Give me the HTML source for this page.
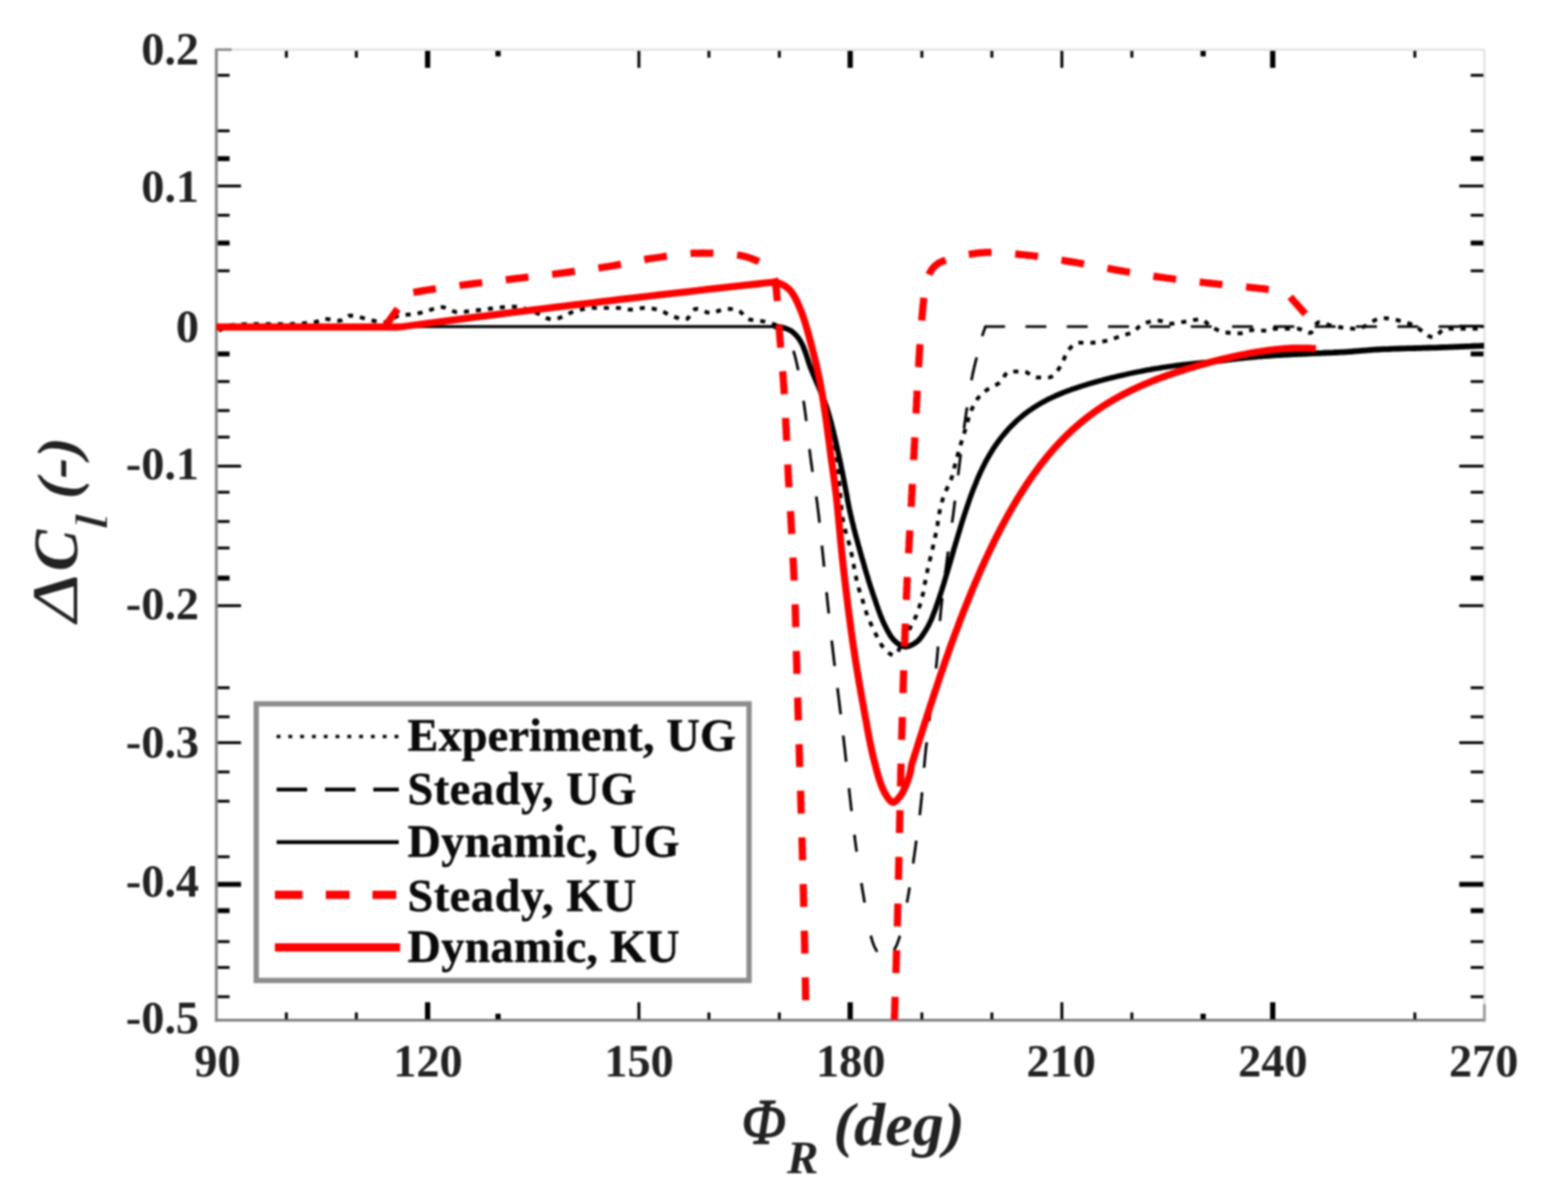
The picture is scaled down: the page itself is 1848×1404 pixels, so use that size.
<!DOCTYPE html>
<html lang="en"><head><meta charset="utf-8"><title>Lift coefficient change versus rotor azimuth</title>
<style>
html,body{margin:0;padding:0;background:#fff;}
body{width:1848px;height:1404px;overflow:hidden;}
svg{display:block;}
text{font-family:"Liberation Serif","DejaVu Serif",serif;font-weight:bold;fill:#222;}
.tl{font-size:54.5px;}
.lg{font-size:54.5px;fill:#0a0a0a;stroke:#0a0a0a;stroke-width:0.5px;stroke-linejoin:round;}
.it{font-style:italic;}
</style></head><body>
<svg role="img" aria-label="Lift coefficient change versus rotor azimuth" width="1848" height="1404" viewBox="0 0 1848 1404">
<rect x="0" y="0" width="1848" height="1404" fill="#fff"/>
<defs><filter id="soft" x="0" y="0" width="1848" height="1404" filterUnits="userSpaceOnUse" color-interpolation-filters="sRGB"><feGaussianBlur stdDeviation="1.0"/></filter></defs>
<g id="plot" filter="url(#soft)">

<line x1="255.0" y1="58.5" x2="1749.5" y2="58.5" stroke="#e6e6e6" stroke-width="3.2"/>
<line x1="1749.5" y1="58.5" x2="1749.5" y2="1202.7" stroke="#e6e6e6" stroke-width="3.2"/>
<line x1="255.0" y1="56.9" x2="255.0" y2="1204.3" stroke="#808080" stroke-width="3.2"/>
<line x1="253.4" y1="1202.7" x2="1751.1" y2="1202.7" stroke="#808080" stroke-width="3.2"/>
<line x1="255.0" y1="58.5" x2="273.0" y2="58.5" stroke="#909090" stroke-width="3.2"/>
<line x1="1749.5" y1="1183.7" x2="1749.5" y2="1204.3" stroke="#999" stroke-width="3.2"/>
<g stroke="#000" fill="none">
<line x1="256.6" y1="88.75" x2="270.6" y2="88.75" stroke-width="3.3"/>
<line x1="1748.3" y1="88.75" x2="1733.3" y2="88.75" stroke-width="3.3"/>
<line x1="256.6" y1="154.25" x2="270.6" y2="154.25" stroke-width="3.3"/>
<line x1="1748.3" y1="154.25" x2="1733.3" y2="154.25" stroke-width="3.3"/>
<line x1="256.6" y1="187" x2="270.6" y2="187" stroke-width="5.8"/>
<line x1="1748.3" y1="187" x2="1733.3" y2="187" stroke-width="5.8"/>
<line x1="256.6" y1="219.25" x2="284.1" y2="219.25" stroke-width="3.3"/>
<line x1="1748.3" y1="219.25" x2="1719.8" y2="219.25" stroke-width="3.3"/>
<line x1="256.6" y1="253.75" x2="270.6" y2="253.75" stroke-width="3.3"/>
<line x1="1748.3" y1="253.75" x2="1733.3" y2="253.75" stroke-width="3.3"/>
<line x1="256.6" y1="286.5" x2="270.6" y2="286.5" stroke-width="5.8"/>
<line x1="1748.3" y1="286.5" x2="1733.3" y2="286.5" stroke-width="5.8"/>
<line x1="256.6" y1="319.25" x2="270.6" y2="319.25" stroke-width="3.3"/>
<line x1="1748.3" y1="319.25" x2="1733.3" y2="319.25" stroke-width="3.3"/>
<line x1="256.6" y1="384.5" x2="284.1" y2="384.5" stroke-width="3.3"/>
<line x1="1748.3" y1="384.5" x2="1719.8" y2="384.5" stroke-width="3.3"/>
<line x1="256.6" y1="417.25" x2="270.6" y2="417.25" stroke-width="5.8"/>
<line x1="1748.3" y1="417.25" x2="1733.3" y2="417.25" stroke-width="5.8"/>
<line x1="256.6" y1="449.75" x2="270.6" y2="449.75" stroke-width="3.3"/>
<line x1="1748.3" y1="449.75" x2="1733.3" y2="449.75" stroke-width="3.3"/>
<line x1="256.6" y1="484" x2="270.6" y2="484" stroke-width="3.3"/>
<line x1="1748.3" y1="484" x2="1733.3" y2="484" stroke-width="3.3"/>
<line x1="256.6" y1="515.25" x2="270.6" y2="515.25" stroke-width="3.3"/>
<line x1="1748.3" y1="515.25" x2="1733.3" y2="515.25" stroke-width="3.3"/>
<line x1="256.6" y1="549.5" x2="284.1" y2="549.5" stroke-width="3.3"/>
<line x1="1748.3" y1="549.5" x2="1719.8" y2="549.5" stroke-width="3.3"/>
<line x1="256.6" y1="580.25" x2="270.6" y2="580.25" stroke-width="3.3"/>
<line x1="1748.3" y1="580.25" x2="1733.3" y2="580.25" stroke-width="3.3"/>
<line x1="256.6" y1="614.75" x2="270.6" y2="614.75" stroke-width="3.3"/>
<line x1="1748.3" y1="614.75" x2="1733.3" y2="614.75" stroke-width="3.3"/>
<line x1="256.6" y1="646" x2="270.6" y2="646" stroke-width="3.3"/>
<line x1="1748.3" y1="646" x2="1733.3" y2="646" stroke-width="3.3"/>
<line x1="256.6" y1="681.5" x2="270.6" y2="681.5" stroke-width="5.8"/>
<line x1="1748.3" y1="681.5" x2="1733.3" y2="681.5" stroke-width="5.8"/>
<line x1="256.6" y1="714" x2="284.1" y2="714" stroke-width="3.3"/>
<line x1="1748.3" y1="714" x2="1719.8" y2="714" stroke-width="3.3"/>
<line x1="256.6" y1="810.75" x2="270.6" y2="810.75" stroke-width="3.3"/>
<line x1="1748.3" y1="810.75" x2="1733.3" y2="810.75" stroke-width="3.3"/>
<line x1="256.6" y1="845" x2="270.6" y2="845" stroke-width="3.3"/>
<line x1="1748.3" y1="845" x2="1733.3" y2="845" stroke-width="3.3"/>
<line x1="256.6" y1="875.5" x2="284.1" y2="875.5" stroke-width="3.3"/>
<line x1="1748.3" y1="875.5" x2="1719.8" y2="875.5" stroke-width="3.3"/>
<line x1="256.6" y1="910" x2="270.6" y2="910" stroke-width="3.3"/>
<line x1="1748.3" y1="910" x2="1733.3" y2="910" stroke-width="3.3"/>
<line x1="256.6" y1="944.5" x2="270.6" y2="944.5" stroke-width="3.3"/>
<line x1="1748.3" y1="944.5" x2="1733.3" y2="944.5" stroke-width="3.3"/>
<line x1="256.6" y1="1010" x2="270.6" y2="1010" stroke-width="3.3"/>
<line x1="1748.3" y1="1010" x2="1733.3" y2="1010" stroke-width="3.3"/>
<line x1="256.6" y1="1042.5" x2="284.1" y2="1042.5" stroke-width="5.8"/>
<line x1="1748.3" y1="1042.5" x2="1719.8" y2="1042.5" stroke-width="5.8"/>
<line x1="256.6" y1="1073.5" x2="270.6" y2="1073.5" stroke-width="5.8"/>
<line x1="1748.3" y1="1073.5" x2="1733.3" y2="1073.5" stroke-width="5.8"/>
<line x1="256.6" y1="1110" x2="270.6" y2="1110" stroke-width="3.3"/>
<line x1="1748.3" y1="1110" x2="1733.3" y2="1110" stroke-width="3.3"/>
<line x1="256.6" y1="1140.5" x2="270.6" y2="1140.5" stroke-width="3.3"/>
<line x1="1748.3" y1="1140.5" x2="1733.3" y2="1140.5" stroke-width="3.3"/>
<line x1="256.6" y1="1175" x2="270.6" y2="1175" stroke-width="3.3"/>
<line x1="1748.3" y1="1175" x2="1733.3" y2="1175" stroke-width="3.3"/>
<line x1="337.5" y1="1201.5" x2="337.5" y2="1193.5" stroke-width="3.4"/>
<line x1="337.5" y1="60.0" x2="337.5" y2="68.0" stroke-width="3.4"/>
<line x1="420" y1="1201.5" x2="420" y2="1193.5" stroke-width="3.4"/>
<line x1="420" y1="60.0" x2="420" y2="68.0" stroke-width="3.4"/>
<line x1="504" y1="1201.5" x2="504" y2="1181.5" stroke-width="6.2"/>
<line x1="504" y1="60.0" x2="504" y2="80.0" stroke-width="6.2"/>
<line x1="587" y1="1201.5" x2="587" y2="1195.0" stroke-width="6.2"/>
<line x1="587" y1="60.0" x2="587" y2="66.5" stroke-width="6.2"/>
<line x1="753" y1="1201.5" x2="753" y2="1181.5" stroke-width="3.4"/>
<line x1="753" y1="60.0" x2="753" y2="80.0" stroke-width="3.4"/>
<line x1="835.5" y1="1201.5" x2="835.5" y2="1193.5" stroke-width="3.4"/>
<line x1="835.5" y1="60.0" x2="835.5" y2="68.0" stroke-width="3.4"/>
<line x1="918.5" y1="1201.5" x2="918.5" y2="1193.5" stroke-width="3.4"/>
<line x1="918.5" y1="60.0" x2="918.5" y2="68.0" stroke-width="3.4"/>
<line x1="1002" y1="1201.5" x2="1002" y2="1181.5" stroke-width="6.2"/>
<line x1="1002" y1="60.0" x2="1002" y2="80.0" stroke-width="6.2"/>
<line x1="1086.5" y1="1201.5" x2="1086.5" y2="1193.5" stroke-width="3.4"/>
<line x1="1086.5" y1="60.0" x2="1086.5" y2="68.0" stroke-width="3.4"/>
<line x1="1169" y1="1201.5" x2="1169" y2="1193.5" stroke-width="3.4"/>
<line x1="1169" y1="60.0" x2="1169" y2="68.0" stroke-width="3.4"/>
<line x1="1251.5" y1="1201.5" x2="1251.5" y2="1181.5" stroke-width="3.4"/>
<line x1="1251.5" y1="60.0" x2="1251.5" y2="80.0" stroke-width="3.4"/>
<line x1="1334" y1="1201.5" x2="1334" y2="1193.5" stroke-width="3.4"/>
<line x1="1334" y1="60.0" x2="1334" y2="68.0" stroke-width="3.4"/>
<line x1="1418" y1="1201.5" x2="1418" y2="1195.0" stroke-width="6.2"/>
<line x1="1418" y1="60.0" x2="1418" y2="66.5" stroke-width="6.2"/>
<line x1="1500" y1="1201.5" x2="1500" y2="1181.5" stroke-width="6.2"/>
<line x1="1500" y1="60.0" x2="1500" y2="80.0" stroke-width="6.2"/>
<line x1="1667.5" y1="1201.5" x2="1667.5" y2="1193.5" stroke-width="3.4"/>
<line x1="1667.5" y1="60.0" x2="1667.5" y2="68.0" stroke-width="3.4"/>
</g>
<clipPath id="cp"><rect x="255.0" y="58.5" width="1494.5" height="1147.2"/></clipPath>
<g clip-path="url(#cp)" fill="none" stroke-linejoin="round">
<path d="M258.0,390.0 L260.1,388.8 L262.2,387.6 L264.3,386.5 L266.5,385.4 L268.6,384.5 L270.8,383.8 L273.0,383.3 L275.2,383.0 L277.5,382.8 L279.7,382.7 L282.0,382.5 L284.4,382.4 L286.7,382.3 L289.1,382.2 L291.4,382.1 L293.8,382.1 L296.1,382.0 L298.5,382.0 L300.8,382.0 L303.1,382.0 L305.4,382.0 L307.8,382.0 L310.1,382.0 L312.4,382.0 L314.8,382.0 L317.1,382.0 L319.4,382.0 L321.7,382.0 L324.1,382.0 L326.4,382.0 L328.7,382.0 L331.0,382.0 L333.4,382.0 L335.7,382.0 L338.0,382.0 L340.3,382.0 L342.7,382.0 L345.0,381.9 L347.3,381.9 L349.7,381.8 L352.0,381.6 L354.4,381.5 L356.7,381.3 L359.0,381.1 L361.3,380.9 L363.6,380.7 L365.9,380.5 L368.2,380.2 L370.5,379.9 L372.7,379.3 L375.0,378.5 L377.2,377.5 L379.4,376.7 L381.6,376.1 L383.9,376.0 L386.2,376.2 L388.5,376.5 L390.8,376.9 L393.2,377.3 L395.5,377.6 L397.8,377.9 L400.0,378.0 L402.2,377.6 L404.3,376.5 L406.4,375.1 L408.5,373.7 L410.6,372.5 L412.7,372.0 L414.9,372.1 L417.1,372.3 L419.3,372.7 L421.6,373.2 L423.9,373.7 L426.1,374.4 L428.4,375.1 L430.7,375.7 L433.0,376.4 L435.3,377.0 L437.6,377.6 L439.9,378.0 L442.2,378.4 L444.6,378.8 L446.9,379.2 L449.3,379.6 L451.6,379.8 L453.8,380.0 L456.0,379.9 L458.1,379.3 L460.1,378.1 L462.1,376.6 L464.1,375.1 L466.1,373.7 L468.2,372.6 L470.3,371.9 L472.6,371.6 L474.8,371.4 L477.2,371.1 L479.5,371.0 L481.9,370.8 L484.2,370.6 L486.6,370.4 L488.9,370.2 L491.2,369.8 L493.4,369.3 L495.7,368.7 L497.9,368.1 L500.2,367.4 L502.4,366.7 L504.6,366.1 L506.9,365.4 L509.1,364.7 L511.4,363.9 L513.6,363.1 L515.9,362.5 L518.1,362.1 L520.4,362.0 L522.6,362.3 L524.8,362.9 L527.0,363.7 L529.3,364.7 L531.5,365.7 L533.7,366.6 L535.9,367.4 L538.2,367.9 L540.4,368.0 L542.7,367.9 L545.0,367.8 L547.3,367.6 L549.7,367.3 L552.0,367.0 L554.3,366.7 L556.6,366.4 L559.0,366.1 L561.3,365.9 L563.6,365.6 L565.9,365.4 L568.2,365.1 L570.6,364.8 L572.9,364.5 L575.2,364.2 L577.6,363.9 L579.9,363.6 L582.2,363.3 L584.5,363.0 L586.9,362.7 L589.2,362.5 L591.5,362.3 L593.8,362.1 L596.1,361.9 L598.4,361.7 L600.7,361.6 L603.0,361.5 L605.3,361.5 L607.6,361.5 L609.8,361.8 L612.1,362.2 L614.4,362.7 L616.6,363.3 L618.9,364.0 L621.1,364.8 L623.3,365.6 L625.6,366.4 L627.8,367.2 L630.0,368.0 L632.2,368.8 L634.4,369.8 L636.5,370.9 L638.7,372.1 L640.8,373.3 L642.9,374.3 L645.1,375.3 L647.2,376.0 L649.4,376.4 L651.6,376.5 L653.7,376.3 L655.9,375.9 L658.1,375.2 L660.2,374.4 L662.4,373.5 L664.6,372.5 L666.7,371.4 L668.9,370.3 L671.1,369.3 L673.3,368.3 L675.5,367.4 L677.8,366.6 L680.0,366.0 L682.3,365.5 L684.5,365.0 L686.8,364.4 L689.1,364.0 L691.4,363.6 L693.7,363.3 L696.0,363.1 L698.4,363.0 L700.7,363.0 L703.0,363.0 L705.3,363.0 L707.6,363.0 L710.0,363.0 L712.3,363.0 L714.6,363.0 L717.0,363.0 L719.3,363.0 L721.6,363.0 L724.0,363.0 L726.3,363.0 L728.6,363.0 L730.9,363.2 L733.2,363.6 L735.5,364.0 L737.8,364.4 L740.1,364.8 L742.4,365.0 L744.7,364.9 L747.0,364.7 L749.4,364.4 L751.7,364.0 L754.0,363.6 L756.3,363.2 L758.6,363.0 L760.9,363.0 L763.2,363.1 L765.6,363.3 L767.9,363.6 L770.2,364.0 L772.5,364.4 L774.8,364.9 L777.0,365.4 L779.1,366.1 L781.2,367.1 L783.3,368.2 L785.4,369.4 L787.5,370.6 L789.6,371.6 L791.7,372.6 L793.9,373.3 L796.2,374.0 L798.6,374.7 L800.9,375.4 L803.3,375.9 L805.5,376.3 L807.6,376.5 L809.4,376.1 L811.1,374.8 L812.7,372.7 L814.2,370.3 L815.8,367.9 L817.3,365.8 L819.0,364.4 L820.8,364.0 L822.9,364.3 L825.0,365.0 L827.2,365.8 L829.5,366.8 L831.9,367.7 L834.2,368.4 L836.5,368.9 L838.8,369.0 L841.0,368.6 L843.3,367.9 L845.5,367.0 L847.7,366.1 L849.9,365.2 L852.2,364.5 L854.4,364.1 L856.7,364.0 L859.1,364.1 L861.5,364.3 L863.9,364.5 L866.2,364.7 L868.3,365.1 L870.3,365.8 L872.1,367.1 L873.9,368.8 L875.7,370.7 L877.4,372.6 L879.2,374.3 L881.1,375.7 L883.0,376.5 L885.2,377.0 L887.4,377.3 L889.7,377.6 L892.1,377.9 L894.5,378.1 L896.8,378.4 L899.2,378.8 L901.5,379.2 L903.7,379.7 L906.0,380.3 L908.2,381.0 L910.4,381.7 L912.6,382.4 L914.9,383.1 L917.1,383.8 L919.3,384.6 L921.6,385.3 L923.9,386.1 L926.1,386.9 L928.2,387.8 L930.1,388.8 L932.0,390.0 L933.9,391.3 L935.7,392.9 L937.5,394.6 L939.1,396.3 L940.7,398.2 L942.0,400.0 L943.2,401.9 L944.3,403.8 L945.3,405.8 L946.3,407.8 L947.2,409.9 L948.0,412.1 L948.8,414.3 L949.6,416.5 L950.3,418.8 L951.1,421.1 L951.8,423.4 L952.5,425.6 L953.3,427.9 L954.1,430.1 L954.9,432.4 L955.7,434.5 L956.6,436.7 L957.4,438.9 L958.3,441.0 L959.2,443.2 L960.1,445.3 L960.9,447.5 L961.8,449.6 L962.7,451.8 L963.6,453.9 L964.4,456.1 L965.3,458.3 L966.2,460.4 L967.1,462.6 L968.0,464.7 L968.9,466.9 L969.8,469.0 L970.7,471.2 L971.6,473.3 L972.5,475.5 L973.3,477.6 L974.1,479.8 L974.9,482.0 L975.6,484.2 L976.2,486.4 L976.8,488.7 L977.4,490.9 L978.0,493.2 L978.5,495.4 L979.1,497.7 L979.6,500.0 L980.1,502.3 L980.6,504.5 L981.0,506.8 L981.5,509.1 L981.9,511.4 L982.3,513.7 L982.7,516.0 L983.1,518.3 L983.5,520.6 L983.9,522.9 L984.3,525.2 L984.6,527.5 L985.0,529.8 L985.3,532.1 L985.7,534.4 L986.0,536.7 L986.3,539.0 L986.6,541.3 L986.8,543.6 L987.1,545.9 L987.3,548.2 L987.6,550.5 L987.8,552.8 L988.0,555.2 L988.2,557.5 L988.4,559.8 L988.5,562.1 L988.7,564.4 L988.9,566.8 L989.1,569.1 L989.3,571.4 L989.5,573.7 L989.6,576.0 L989.9,578.4 L990.1,580.7 L990.3,583.0 L990.5,585.3 L990.7,587.6 L990.9,590.0 L991.1,592.3 L991.3,594.6 L991.5,596.9 L991.7,599.2 L992.0,601.6 L992.2,603.9 L992.5,606.2 L992.8,608.5 L993.1,610.8 L993.5,613.0 L993.9,615.3 L994.4,617.6 L994.9,619.8 L995.4,622.1 L996.0,624.3 L996.6,626.6 L997.3,628.8 L997.9,631.1 L998.5,633.3 L999.2,635.6 L999.8,637.8 L1000.5,640.1 L1001.1,642.3 L1001.7,644.6 L1002.3,646.8 L1002.8,649.1 L1003.3,651.4 L1003.8,653.7 L1004.2,655.9 L1004.7,658.2 L1005.1,660.5 L1005.6,662.8 L1006.0,665.1 L1006.4,667.4 L1006.8,669.7 L1007.2,672.0 L1007.7,674.2 L1008.1,676.5 L1008.6,678.8 L1009.0,681.1 L1009.5,683.4 L1010.0,685.6 L1010.6,687.9 L1011.2,690.1 L1011.8,692.4 L1012.4,694.6 L1013.1,696.8 L1013.8,699.0 L1014.5,701.3 L1015.2,703.5 L1016.0,705.7 L1016.7,707.9 L1017.4,710.1 L1018.0,712.4 L1018.7,714.6 L1019.4,716.8 L1020.1,719.0 L1020.8,721.3 L1021.5,723.5 L1022.3,725.7 L1023.1,727.8 L1024.0,730.0 L1024.9,732.1 L1025.8,734.2 L1026.8,736.4 L1027.8,738.5 L1028.8,740.6 L1029.8,742.7 L1030.9,744.8 L1031.9,746.9 L1032.9,749.0 L1033.9,751.2 L1034.9,753.4 L1036.0,755.5 L1037.1,757.5 L1038.3,759.5 L1039.6,761.3 L1041.0,763.1 L1042.6,764.9 L1044.4,766.9 L1046.4,768.7 L1048.4,770.4 L1050.3,771.6 L1052.1,772.4 L1053.6,772.4 L1055.1,771.8 L1056.4,770.5 L1057.7,768.8 L1059.0,766.7 L1060.2,764.3 L1061.4,761.8 L1062.6,759.2 L1063.7,756.6 L1064.9,754.2 L1066.0,752.0 L1067.2,750.0 L1068.3,748.0 L1069.5,745.9 L1070.6,743.9 L1071.7,741.8 L1072.9,739.8 L1074.0,737.7 L1075.1,735.7 L1076.1,733.6 L1077.1,731.5 L1078.1,729.4 L1079.1,727.3 L1080.0,725.1 L1080.8,723.0 L1081.6,720.8 L1082.4,718.6 L1083.1,716.4 L1083.9,714.2 L1084.6,712.0 L1085.2,709.8 L1085.9,707.5 L1086.5,705.2 L1087.0,703.0 L1087.6,700.7 L1088.1,698.5 L1088.5,696.2 L1088.9,693.9 L1089.3,691.6 L1089.7,689.3 L1090.1,687.0 L1090.6,684.7 L1091.0,682.4 L1091.5,680.2 L1092.0,677.9 L1092.4,675.6 L1092.9,673.3 L1093.4,671.1 L1093.9,668.8 L1094.4,666.5 L1094.9,664.3 L1095.5,662.0 L1096.0,659.7 L1096.5,657.5 L1097.0,655.2 L1097.6,652.9 L1098.1,650.7 L1098.6,648.4 L1099.2,646.1 L1099.7,643.9 L1100.2,641.6 L1100.7,639.3 L1101.2,637.1 L1101.7,634.8 L1102.2,632.5 L1102.7,630.2 L1103.2,628.0 L1103.7,625.7 L1104.1,623.4 L1104.5,621.1 L1104.9,618.8 L1105.2,616.5 L1105.6,614.2 L1105.9,611.9 L1106.3,609.6 L1106.6,607.3 L1107.0,605.0 L1107.5,602.7 L1107.9,600.5 L1108.4,598.2 L1109.0,595.9 L1109.6,593.7 L1110.2,591.4 L1110.9,589.2 L1111.5,586.9 L1112.3,584.7 L1113.0,582.6 L1113.9,580.4 L1114.9,578.3 L1115.9,576.2 L1116.9,574.1 L1118.0,572.0 L1119.0,569.9 L1119.9,567.8 L1120.8,565.6 L1121.5,563.4 L1122.2,561.2 L1122.8,559.0 L1123.4,556.7 L1124.0,554.5 L1124.5,552.2 L1125.1,549.9 L1125.7,547.7 L1126.3,545.4 L1126.9,543.2 L1127.5,540.9 L1128.1,538.7 L1128.7,536.4 L1129.3,534.2 L1129.9,531.9 L1130.5,529.7 L1131.2,527.5 L1131.8,525.2 L1132.5,523.0 L1133.2,520.8 L1133.8,518.6 L1134.5,516.3 L1135.2,514.1 L1135.9,511.9 L1136.6,509.7 L1137.3,507.4 L1137.9,505.2 L1138.6,503.0 L1139.2,500.7 L1139.9,498.5 L1140.5,496.3 L1141.2,494.0 L1141.9,491.8 L1142.6,489.6 L1143.4,487.4 L1144.3,485.2 L1145.1,483.0 L1146.1,480.8 L1147.0,478.7 L1148.1,476.6 L1149.1,474.5 L1150.3,472.6 L1151.5,470.7 L1152.9,469.0 L1154.5,467.2 L1156.1,465.5 L1157.9,463.9 L1159.7,462.3 L1161.5,460.8 L1163.4,459.4 L1165.3,458.2 L1167.3,457.0 L1169.4,455.9 L1171.5,454.9 L1173.6,453.9 L1175.7,452.7 L1177.5,451.5 L1179.2,449.8 L1180.8,447.8 L1182.3,445.5 L1183.7,443.3 L1185.2,441.2 L1186.8,439.5 L1188.4,438.3 L1190.2,438.0 L1192.3,438.0 L1194.5,438.0 L1196.9,438.0 L1199.4,438.0 L1201.8,438.0 L1204.3,438.0 L1206.5,438.0 L1208.7,438.5 L1210.9,439.4 L1213.0,440.7 L1215.1,442.0 L1217.2,443.3 L1219.3,444.3 L1221.5,444.9 L1223.7,445.0 L1226.1,445.0 L1228.5,445.0 L1231.0,445.0 L1233.3,445.0 L1235.5,445.0 L1237.4,444.8 L1239.3,444.0 L1241.2,442.7 L1243.0,441.0 L1244.7,439.0 L1246.3,436.9 L1247.8,434.8 L1249.2,432.7 L1250.5,430.8 L1251.6,428.8 L1252.6,426.7 L1253.5,424.5 L1254.4,422.2 L1255.3,419.9 L1256.2,417.8 L1257.2,415.7 L1258.4,413.8 L1259.7,412.1 L1261.3,410.3 L1263.1,408.4 L1265.0,406.7 L1267.0,405.3 L1269.1,404.3 L1271.2,404.0 L1273.3,404.0 L1275.6,404.0 L1277.9,404.0 L1280.3,404.0 L1282.7,404.0 L1285.1,404.0 L1287.5,404.0 L1289.8,403.9 L1292.1,403.8 L1294.4,403.5 L1296.7,403.1 L1299.0,402.7 L1301.3,402.2 L1303.6,401.8 L1305.9,401.3 L1308.1,400.7 L1310.3,400.0 L1312.5,399.2 L1314.7,398.4 L1316.9,397.6 L1319.1,396.8 L1321.3,396.1 L1323.6,395.4 L1325.8,394.7 L1328.1,394.1 L1330.3,393.4 L1332.5,392.6 L1334.6,391.7 L1336.5,390.6 L1338.4,389.1 L1340.1,387.4 L1341.8,385.6 L1343.6,384.0 L1345.4,382.6 L1347.3,381.6 L1349.4,380.9 L1351.6,380.2 L1353.8,379.6 L1356.2,379.0 L1358.5,378.6 L1360.9,378.3 L1363.2,378.0 L1365.5,378.0 L1367.8,378.3 L1370.1,378.9 L1372.3,379.7 L1374.6,380.5 L1376.9,381.1 L1379.1,381.5 L1381.4,381.5 L1383.7,381.3 L1386.0,381.0 L1388.3,380.6 L1390.6,380.2 L1392.9,379.8 L1395.2,379.4 L1397.5,379.0 L1399.9,378.6 L1402.2,378.2 L1404.6,377.8 L1407.0,377.3 L1409.3,377.0 L1411.6,376.7 L1413.8,376.5 L1415.9,376.6 L1417.8,377.3 L1419.8,378.5 L1421.6,380.2 L1423.5,381.9 L1425.4,383.6 L1427.3,384.9 L1429.4,386.0 L1431.5,387.2 L1433.6,388.3 L1435.7,389.3 L1437.9,390.2 L1440.1,391.0 L1442.3,391.5 L1444.5,391.8 L1446.8,392.1 L1449.1,392.4 L1451.5,392.6 L1453.8,392.8 L1456.2,392.9 L1458.5,393.0 L1460.8,393.0 L1463.1,392.7 L1465.3,392.1 L1467.6,391.4 L1469.8,390.6 L1472.1,389.9 L1474.4,389.3 L1476.6,389.0 L1478.9,389.0 L1481.3,389.1 L1483.6,389.3 L1485.9,389.5 L1488.3,389.7 L1490.6,389.8 L1492.9,390.0 L1495.2,390.0 L1497.5,389.5 L1499.7,388.7 L1501.9,387.8 L1504.2,387.5 L1506.5,387.5 L1508.8,387.5 L1511.1,387.5 L1513.5,387.5 L1515.8,387.5 L1518.2,387.5 L1520.5,387.5 L1522.9,387.5 L1525.2,387.5 L1527.5,387.5 L1529.7,387.5 L1532.1,388.0 L1534.4,388.9 L1536.8,389.9 L1539.0,391.0 L1541.2,391.9 L1543.1,392.4 L1544.9,392.3 L1546.4,390.9 L1547.8,388.7 L1549.1,386.0 L1550.4,383.4 L1551.8,381.3 L1553.4,380.1 L1555.2,380.1 L1557.2,380.4 L1559.3,380.9 L1561.6,381.6 L1563.9,382.3 L1566.3,383.1 L1568.8,383.8 L1571.2,384.4 L1573.5,384.9 L1575.8,385.3 L1578.1,385.6 L1580.4,385.9 L1582.8,386.2 L1585.1,386.5 L1587.5,386.8 L1589.8,387.0 L1592.1,387.2 L1594.4,387.4 L1596.7,387.5 L1599.0,387.5 L1601.2,387.3 L1603.4,386.8 L1605.5,386.0 L1607.7,385.0 L1609.8,383.9 L1611.9,382.6 L1614.0,381.2 L1616.2,379.9 L1618.3,378.6 L1620.4,377.5 L1622.5,376.5 L1624.7,375.7 L1626.8,375.2 L1629.0,375.0 L1631.3,375.0 L1633.5,375.2 L1635.8,375.4 L1638.1,375.7 L1640.4,376.1 L1642.8,376.5 L1645.1,377.0 L1647.4,377.6 L1649.7,378.2 L1652.0,378.8 L1654.3,379.5 L1656.6,380.1 L1658.8,380.8 L1661.0,381.5 L1663.2,382.2 L1665.3,383.0 L1667.4,384.1 L1669.5,385.4 L1671.5,386.8 L1673.5,388.4 L1675.5,390.1 L1677.5,391.7 L1679.4,393.2 L1681.4,394.6 L1683.3,395.8 L1685.3,396.7 L1687.2,397.3 L1689.2,397.5 L1691.1,397.0 L1693.0,395.7 L1694.9,394.0 L1696.8,392.1 L1698.7,390.2 L1700.6,388.7 L1702.7,387.7 L1704.7,387.5 L1706.8,387.5 L1708.9,387.5 L1711.1,387.5 L1713.3,387.5 L1715.5,387.5 L1717.7,387.5 L1719.9,387.5 L1722.2,387.5 L1724.5,387.5 L1726.8,387.5 L1729.2,387.5 L1731.5,387.5 L1733.9,387.5 L1736.4,387.5 L1738.8,387.5 L1741.3,387.5 L1743.9,387.5 L1746.4,387.5 L1749.0,387.5" stroke="#000" stroke-width="4.6" stroke-dasharray="6 8.2"/>
<path d="M1043.0,1135.0 L1041.8,1133.4 L1040.6,1131.9 L1039.5,1130.3 L1038.3,1128.7 L1037.2,1127.1 L1036.1,1125.5 L1035.0,1123.9 L1034.0,1122.2 L1033.0,1120.6 L1032.1,1118.9 L1031.2,1117.3 L1030.4,1115.6 L1029.7,1113.9 L1029.1,1112.2 L1028.5,1110.4 L1027.9,1108.7 L1027.4,1106.9 L1026.9,1105.1 L1026.4,1103.3 L1025.9,1101.5 L1025.5,1099.7 L1025.0,1097.8 L1024.6,1096.0 L1024.2,1094.1 L1023.8,1092.3 L1023.4,1090.4 L1023.1,1088.5 L1022.7,1086.6 L1022.4,1084.7 L1022.0,1082.8 L1021.7,1080.9 L1021.4,1079.0 L1021.0,1077.1 L1020.7,1075.2 L1020.4,1073.2 L1020.1,1071.3 L1019.8,1069.4 L1019.5,1067.5 L1019.2,1065.5 L1018.9,1063.6 L1018.6,1061.7 L1018.3,1059.8 L1018.0,1057.9 L1017.7,1056.0 L1017.4,1054.1 L1017.0,1052.2 L1016.7,1050.3 L1016.4,1048.5 L1016.1,1046.6 L1015.8,1044.7 L1015.5,1042.8 L1015.2,1040.9 L1014.8,1039.0 L1014.5,1037.1 L1014.2,1035.3 L1013.9,1033.4 L1013.7,1031.5 L1013.4,1029.6 L1013.1,1027.7 L1012.8,1025.8 L1012.5,1023.9 L1012.2,1022.0 L1011.9,1020.1 L1011.7,1018.3 L1011.4,1016.4 L1011.1,1014.5 L1010.8,1012.6 L1010.6,1010.7 L1010.3,1008.8 L1010.0,1006.9 L1009.8,1005.0 L1009.5,1003.1 L1009.2,1001.2 L1009.0,999.3 L1008.7,997.4 L1008.5,995.5 L1008.2,993.7 L1008.0,991.8 L1007.7,989.9 L1007.5,988.0 L1007.2,986.1 L1007.0,984.2 L1006.7,982.3 L1006.5,980.4 L1006.3,978.5 L1006.0,976.6 L1005.8,974.7 L1005.6,972.8 L1005.3,970.9 L1005.1,969.0 L1004.9,967.1 L1004.7,965.2 L1004.4,963.3 L1004.2,961.4 L1004.0,959.5 L1003.8,957.6 L1003.6,955.7 L1003.4,953.8 L1003.1,951.9 L1002.9,950.0 L1002.7,948.1 L1002.5,946.2 L1002.3,944.3 L1002.0,942.4 L1001.8,940.5 L1001.6,938.6 L1001.4,936.7 L1001.2,934.8 L1001.0,932.9 L1000.8,931.0 L1000.6,929.1 L1000.4,927.2 L1000.2,925.3 L1000.0,923.4 L999.8,921.5 L999.6,919.6 L999.4,917.7 L999.2,915.8 L998.9,913.9 L998.7,912.0 L998.5,910.1 L998.3,908.2 L998.1,906.3 L997.9,904.4 L997.7,902.5 L997.5,900.6 L997.3,898.7 L997.1,896.8 L996.9,894.9 L996.7,893.0 L996.5,891.1 L996.3,889.3 L996.1,887.4 L995.9,885.5 L995.7,883.6 L995.5,881.7 L995.2,879.8 L995.0,877.9 L994.8,876.0 L994.6,874.1 L994.4,872.2 L994.2,870.3 L993.9,868.4 L993.7,866.5 L993.5,864.6 L993.3,862.7 L993.0,860.8 L992.8,858.9 L992.6,857.0 L992.4,855.1 L992.2,853.2 L991.9,851.3 L991.7,849.4 L991.5,847.5 L991.2,845.6 L991.0,843.7 L990.8,841.8 L990.6,839.9 L990.3,838.0 L990.1,836.1 L989.9,834.2 L989.6,832.3 L989.4,830.4 L989.2,828.5 L989.0,826.6 L988.7,824.7 L988.5,822.8 L988.3,820.9 L988.0,819.0 L987.8,817.2 L987.5,815.3 L987.3,813.4 L987.1,811.5 L986.8,809.6 L986.6,807.7 L986.3,805.8 L986.1,803.9 L985.8,802.0 L985.6,800.1 L985.4,798.2 L985.1,796.3 L984.9,794.4 L984.6,792.5 L984.4,790.6 L984.2,788.7 L983.9,786.8 L983.7,784.9 L983.5,783.0 L983.3,781.1 L983.0,779.2 L982.8,777.3 L982.6,775.4 L982.4,773.5 L982.1,771.6 L981.9,769.7 L981.7,767.8 L981.5,766.0 L981.3,764.1 L981.1,762.2 L980.8,760.3 L980.6,758.4 L980.4,756.5 L980.2,754.6 L980.0,752.7 L979.8,750.8 L979.6,748.9 L979.4,747.0 L979.1,745.1 L978.9,743.2 L978.7,741.3 L978.5,739.4 L978.3,737.5 L978.1,735.6 L977.9,733.7 L977.7,731.8 L977.5,729.9 L977.3,728.0 L977.1,726.1 L976.9,724.2 L976.7,722.3 L976.5,720.4 L976.3,718.5 L976.1,716.6 L975.9,714.7 L975.7,712.8 L975.5,710.9 L975.3,709.0 L975.1,707.1 L974.9,705.2 L974.7,703.3 L974.5,701.4 L974.3,699.5 L974.1,697.6 L973.9,695.7 L973.8,693.8 L973.6,691.9 L973.4,690.0 L973.2,688.1 L973.0,686.2 L972.8,684.3 L972.6,682.4 L972.4,680.5 L972.3,678.5 L972.1,676.6 L971.9,674.7 L971.7,672.8 L971.5,670.9 L971.3,669.0 L971.1,667.1 L970.9,665.2 L970.7,663.3 L970.6,661.4 L970.4,659.5 L970.2,657.6 L970.0,655.7 L969.8,653.8 L969.6,651.9 L969.4,650.0 L969.2,648.1 L969.0,646.2 L968.8,644.3 L968.6,642.4 L968.4,640.5 L968.2,638.6 L968.0,636.7 L967.8,634.8 L967.6,632.9 L967.4,631.0 L967.3,629.1 L967.1,627.2 L966.9,625.3 L966.7,623.4 L966.5,621.5 L966.2,619.6 L966.0,617.7 L965.8,615.8 L965.6,613.9 L965.4,612.0 L965.2,610.1 L965.0,608.2 L964.8,606.3 L964.5,604.4 L964.3,602.5 L964.1,600.6 L963.8,598.7 L963.6,596.9 L963.4,595.0 L963.1,593.1 L962.9,591.2 L962.6,589.3 L962.3,587.4 L962.1,585.5 L961.8,583.6 L961.5,581.7 L961.2,579.8 L960.9,577.9 L960.7,576.0 L960.4,574.2 L960.1,572.3 L959.8,570.4 L959.5,568.5 L959.2,566.6 L958.9,564.7 L958.6,562.8 L958.4,560.9 L958.1,559.0 L957.8,557.2 L957.5,555.3 L957.2,553.4 L957.0,551.5 L956.7,549.6 L956.4,547.7 L956.1,545.8 L955.9,543.9 L955.6,542.0 L955.4,540.1 L955.1,538.2 L954.9,536.3 L954.7,534.4 L954.4,532.5 L954.2,530.6 L954.0,528.7 L953.8,526.8 L953.5,524.9 L953.3,523.0 L953.1,521.1 L952.9,519.2 L952.7,517.4 L952.5,515.5 L952.3,513.6 L952.0,511.7 L951.8,509.8 L951.6,507.9 L951.4,506.0 L951.2,504.1 L951.0,502.2 L950.7,500.3 L950.5,498.4 L950.3,496.5 L950.1,494.6 L949.8,492.7 L949.6,490.8 L949.4,488.9 L949.1,487.0 L948.9,485.1 L948.6,483.2 L948.3,481.3 L948.1,479.4 L947.8,477.5 L947.5,475.6 L947.2,473.8 L946.9,471.9 L946.7,470.0 L946.4,468.1 L946.1,466.2 L945.8,464.3 L945.5,462.4 L945.2,460.5 L944.9,458.6 L944.5,456.7 L944.2,454.8 L943.9,453.0 L943.6,451.1 L943.2,449.2 L942.9,447.3 L942.5,445.4 L942.2,443.5 L941.8,441.7 L941.4,439.8 L941.1,437.9 L940.7,436.0 L940.3,434.2 L939.9,432.3 L939.5,430.4 L939.1,428.6 L938.6,426.7 L938.2,424.9 L937.8,423.0 L937.3,421.2 L936.8,419.4 L936.3,417.5 L935.8,415.7 L935.3,413.9 L934.7,412.1 L934.2,410.2 L933.6,408.4 L933.0,406.6 L932.4,404.8 L931.8,403.0 L931.1,401.2 L930.5,399.4 L929.8,397.5 L929.2,395.7 L928.5,394.0 L927.8,392.2 L927.1,390.4 L926.4,388.6 L925.7,386.8 L925.0,385.0" stroke="#000" stroke-width="3.2" stroke-dasharray="0.0 15.9 20.5 39.7 23.3 37.4 20.2 28.2 27.2 31.2 31.2 25.2 31.2 26.2 30.2 32.2 25.1 30.1 25.1 27.1 31.2 29.3 27.2 33.2 24.2 36.5 23.7 2000"/>
<path d="M1043.0,1135.0 L1044.2,1133.5 L1045.4,1131.9 L1046.6,1130.3 L1047.8,1128.8 L1048.9,1127.2 L1050.1,1125.6 L1051.2,1124.0 L1052.2,1122.4 L1053.2,1120.7 L1054.2,1119.1 L1055.1,1117.4 L1056.0,1115.8 L1056.8,1114.1 L1057.5,1112.4 L1058.1,1110.7 L1058.7,1108.9 L1059.3,1107.2 L1059.9,1105.4 L1060.4,1103.6 L1060.9,1101.8 L1061.5,1100.0 L1061.9,1098.2 L1062.4,1096.4 L1062.9,1094.5 L1063.3,1092.7 L1063.8,1090.8 L1064.2,1088.9 L1064.6,1087.0 L1065.0,1085.1 L1065.4,1083.2 L1065.8,1081.3 L1066.1,1079.4 L1066.5,1077.5 L1066.9,1075.6 L1067.2,1073.7 L1067.5,1071.8 L1067.9,1069.9 L1068.2,1068.0 L1068.6,1066.1 L1068.9,1064.2 L1069.2,1062.2 L1069.6,1060.3 L1069.9,1058.5 L1070.2,1056.6 L1070.6,1054.7 L1070.9,1052.8 L1071.2,1050.9 L1071.5,1049.0 L1071.8,1047.2 L1072.2,1045.3 L1072.5,1043.4 L1072.8,1041.5 L1073.1,1039.6 L1073.3,1037.7 L1073.6,1035.8 L1073.9,1033.9 L1074.2,1032.1 L1074.5,1030.2 L1074.7,1028.3 L1075.0,1026.4 L1075.3,1024.5 L1075.6,1022.6 L1075.8,1020.7 L1076.1,1018.8 L1076.4,1016.9 L1076.6,1015.0 L1076.9,1013.1 L1077.1,1011.2 L1077.4,1009.3 L1077.7,1007.4 L1077.9,1005.5 L1078.2,1003.7 L1078.5,1001.8 L1078.7,999.9 L1079.0,998.0 L1079.2,996.1 L1079.5,994.2 L1079.8,992.3 L1080.0,990.4 L1080.3,988.5 L1080.6,986.6 L1080.8,984.7 L1081.1,982.8 L1081.3,980.9 L1081.6,979.0 L1081.8,977.1 L1082.1,975.2 L1082.4,973.4 L1082.6,971.5 L1082.8,969.6 L1083.1,967.7 L1083.3,965.8 L1083.6,963.9 L1083.8,962.0 L1084.0,960.1 L1084.3,958.2 L1084.5,956.3 L1084.7,954.4 L1084.9,952.5 L1085.1,950.6 L1085.3,948.7 L1085.5,946.8 L1085.7,944.9 L1085.9,943.0 L1086.1,941.1 L1086.3,939.2 L1086.4,937.3 L1086.6,935.4 L1086.8,933.5 L1087.0,931.6 L1087.1,929.7 L1087.3,927.8 L1087.4,925.9 L1087.6,924.0 L1087.7,922.0 L1087.9,920.1 L1088.0,918.2 L1088.2,916.3 L1088.4,914.4 L1088.5,912.5 L1088.7,910.6 L1088.8,908.7 L1089.0,906.8 L1089.1,904.9 L1089.3,903.0 L1089.5,901.1 L1089.6,899.2 L1089.8,897.3 L1090.0,895.4 L1090.2,893.5 L1090.3,891.6 L1090.5,889.7 L1090.7,887.8 L1090.9,885.9 L1091.1,884.0 L1091.3,882.1 L1091.5,880.2 L1091.8,878.3 L1092.0,876.4 L1092.2,874.5 L1092.4,872.6 L1092.6,870.7 L1092.8,868.8 L1093.1,866.9 L1093.3,865.0 L1093.5,863.1 L1093.8,861.2 L1094.0,859.3 L1094.2,857.4 L1094.5,855.5 L1094.7,853.6 L1094.9,851.7 L1095.2,849.8 L1095.4,847.9 L1095.6,846.0 L1095.9,844.1 L1096.1,842.2 L1096.3,840.3 L1096.6,838.4 L1096.8,836.5 L1097.0,834.6 L1097.3,832.7 L1097.5,830.8 L1097.8,828.9 L1098.0,827.1 L1098.3,825.2 L1098.5,823.3 L1098.8,821.4 L1099.0,819.5 L1099.3,817.6 L1099.5,815.7 L1099.8,813.8 L1100.1,811.9 L1100.3,810.0 L1100.6,808.1 L1100.8,806.2 L1101.1,804.3 L1101.3,802.4 L1101.6,800.5 L1101.8,798.6 L1102.1,796.7 L1102.3,794.8 L1102.5,792.9 L1102.8,791.0 L1103.0,789.2 L1103.2,787.3 L1103.4,785.4 L1103.6,783.5 L1103.8,781.6 L1104.0,779.7 L1104.2,777.8 L1104.4,775.9 L1104.6,774.0 L1104.7,772.0 L1104.9,770.1 L1105.1,768.2 L1105.2,766.3 L1105.4,764.4 L1105.5,762.5 L1105.7,760.6 L1105.8,758.7 L1106.0,756.8 L1106.1,754.9 L1106.3,753.0 L1106.4,751.1 L1106.5,749.2 L1106.7,747.3 L1106.8,745.4 L1107.0,743.5 L1107.1,741.6 L1107.2,739.6 L1107.4,737.7 L1107.5,735.8 L1107.7,733.9 L1107.8,732.0 L1108.0,730.1 L1108.2,728.2 L1108.3,726.3 L1108.5,724.4 L1108.7,722.5 L1108.8,720.6 L1109.0,718.7 L1109.2,716.8 L1109.4,714.9 L1109.6,713.0 L1109.8,711.1 L1110.0,709.2 L1110.2,707.3 L1110.4,705.4 L1110.6,703.5 L1110.8,701.6 L1111.1,699.7 L1111.3,697.8 L1111.5,695.9 L1111.7,694.0 L1111.9,692.1 L1112.2,690.2 L1112.4,688.3 L1112.6,686.4 L1112.9,684.5 L1113.1,682.6 L1113.3,680.7 L1113.6,678.8 L1113.8,677.0 L1114.1,675.1 L1114.3,673.2 L1114.6,671.3 L1114.8,669.4 L1115.1,667.5 L1115.3,665.6 L1115.6,663.7 L1115.8,661.8 L1116.1,659.9 L1116.3,658.0 L1116.6,656.1 L1116.9,654.2 L1117.1,652.3 L1117.4,650.4 L1117.6,648.5 L1117.9,646.6 L1118.2,644.7 L1118.4,642.8 L1118.7,641.0 L1118.9,639.1 L1119.2,637.2 L1119.5,635.3 L1119.7,633.4 L1120.0,631.5 L1120.3,629.6 L1120.5,627.7 L1120.8,625.8 L1121.0,623.9 L1121.3,622.0 L1121.6,620.1 L1121.8,618.2 L1122.1,616.3 L1122.3,614.4 L1122.6,612.5 L1122.8,610.7 L1123.1,608.8 L1123.4,606.9 L1123.6,605.0 L1123.9,603.1 L1124.1,601.2 L1124.4,599.3 L1124.6,597.4 L1124.8,595.5 L1125.1,593.6 L1125.3,591.7 L1125.6,589.8 L1125.8,587.9 L1126.1,586.0 L1126.3,584.1 L1126.5,582.2 L1126.8,580.3 L1127.0,578.4 L1127.2,576.5 L1127.5,574.6 L1127.7,572.7 L1127.9,570.8 L1128.2,568.9 L1128.4,567.0 L1128.6,565.1 L1128.9,563.2 L1129.1,561.3 L1129.3,559.4 L1129.6,557.5 L1129.8,555.6 L1130.0,553.7 L1130.3,551.8 L1130.5,549.9 L1130.7,548.0 L1130.9,546.1 L1131.2,544.2 L1131.4,542.3 L1131.6,540.4 L1131.9,538.5 L1132.1,536.6 L1132.3,534.7 L1132.6,532.8 L1132.8,530.9 L1133.1,529.0 L1133.3,527.1 L1133.5,525.2 L1133.8,523.3 L1134.0,521.4 L1134.3,519.5 L1134.5,517.6 L1134.7,515.8 L1135.0,513.9 L1135.2,512.0 L1135.5,510.1 L1135.7,508.2 L1136.0,506.3 L1136.3,504.4 L1136.5,502.5 L1136.8,500.6 L1137.0,498.7 L1137.3,496.8 L1137.6,494.9 L1137.8,493.0 L1138.1,491.1 L1138.4,489.2 L1138.6,487.3 L1138.9,485.5 L1139.2,483.6 L1139.5,481.7 L1139.8,479.8 L1140.0,477.9 L1140.3,476.0 L1140.6,474.1 L1140.9,472.2 L1141.2,470.4 L1141.5,468.5 L1141.8,466.6 L1142.1,464.7 L1142.4,462.8 L1142.7,460.9 L1143.1,459.1 L1143.4,457.2 L1143.7,455.3 L1144.0,453.4 L1144.4,451.6 L1144.7,449.7 L1145.0,447.8 L1145.4,445.9 L1145.8,444.1 L1146.1,442.2 L1146.5,440.3 L1147.0,438.5 L1147.4,436.6 L1147.8,434.7 L1148.2,432.9 L1148.7,431.0 L1149.1,429.1 L1149.6,427.3 L1150.0,425.4 L1150.5,423.6 L1151.0,421.7 L1151.4,419.8 L1151.8,418.0 L1152.3,416.1 L1152.7,414.3 L1153.2,412.4 L1153.6,410.5 L1154.1,408.7 L1154.6,406.8 L1155.0,405.0 L1155.5,403.1 L1156.0,401.3 L1156.6,399.5 L1157.1,397.6 L1157.7,395.8 L1158.3,394.0 L1158.9,392.2 L1159.5,390.4 L1160.2,388.6 L1160.8,386.8 L1161.5,385.0" stroke="#000" stroke-width="3.2" stroke-dasharray="0.0 18.4 18.4 39.9 18.3 28.3 27.3 30.3 27.1 29.1 30.2 25.2 30.2 32.3 26.1 30.1 27.1 29.2 26.2 34.3 26.2 30.2 25.2 30.2 25.3 32.4 27.7 25.8 11.7 2000"/>
<path d="M1159.9,385.0 L1749.0,385.0" stroke="#000" stroke-width="3" stroke-dasharray="24.6 24.1"/>
<path d="M255.0,385.0 L921.0,385.0" stroke="#000" stroke-width="3.4"/>
<path d="M912.0,385.0 L913.6,385.0 L915.2,385.1 L916.8,385.2 L918.3,385.3 L919.9,385.5 L921.5,385.8 L923.1,386.2 L924.7,386.7 L926.2,387.2 L927.7,387.8 L929.2,388.4 L930.5,389.0 L931.8,389.7 L933.1,390.6 L934.4,391.5 L935.6,392.6 L936.8,393.7 L938.0,394.9 L939.1,396.2 L940.2,397.5 L941.2,398.8 L942.1,400.1 L942.9,401.4 L943.7,402.6 L944.4,404.0 L945.1,405.3 L945.8,406.7 L946.4,408.1 L947.0,409.5 L947.6,411.0 L948.2,412.5 L948.7,414.0 L949.3,415.5 L949.8,417.1 L950.3,418.6 L950.8,420.1 L951.3,421.7 L951.8,423.3 L952.3,424.8 L952.8,426.4 L953.3,427.9 L953.8,429.5 L954.4,431.0 L954.9,432.5 L955.5,434.0 L956.1,435.5 L956.7,436.9 L957.3,438.4 L957.9,439.9 L958.5,441.3 L959.1,442.8 L959.7,444.3 L960.3,445.7 L961.0,447.2 L961.6,448.7 L962.2,450.1 L962.9,451.6 L963.5,453.1 L964.1,454.5 L964.8,456.0 L965.4,457.5 L966.0,458.9 L966.6,460.4 L967.2,461.9 L967.9,463.3 L968.5,464.8 L969.1,466.3 L969.7,467.8 L970.2,469.2 L970.8,470.7 L971.4,472.2 L972.0,473.7 L972.5,475.2 L973.0,476.6 L973.6,478.1 L974.1,479.6 L974.6,481.1 L975.1,482.6 L975.5,484.1 L976.0,485.7 L976.5,487.2 L976.9,488.7 L977.3,490.2 L977.8,491.7 L978.2,493.3 L978.6,494.8 L979.0,496.3 L979.5,497.8 L979.9,499.4 L980.3,500.9 L980.7,502.5 L981.0,504.0 L981.4,505.5 L981.8,507.1 L982.2,508.6 L982.6,510.2 L982.9,511.7 L983.3,513.3 L983.7,514.8 L984.0,516.4 L984.4,517.9 L984.7,519.5 L985.1,521.1 L985.5,522.6 L985.8,524.2 L986.2,525.7 L986.5,527.3 L986.8,528.8 L987.2,530.4 L987.5,531.9 L987.9,533.5 L988.2,535.0 L988.6,536.6 L988.9,538.1 L989.2,539.7 L989.6,541.2 L989.9,542.8 L990.2,544.3 L990.6,545.9 L990.9,547.5 L991.2,549.0 L991.5,550.6 L991.8,552.1 L992.1,553.7 L992.5,555.2 L992.8,556.8 L993.1,558.4 L993.4,559.9 L993.7,561.5 L994.0,563.0 L994.3,564.6 L994.6,566.2 L994.9,567.7 L995.2,569.3 L995.5,570.8 L995.8,572.4 L996.1,574.0 L996.4,575.5 L996.7,577.1 L997.0,578.7 L997.3,580.2 L997.6,581.8 L997.9,583.3 L998.2,584.9 L998.5,586.5 L998.7,588.0 L999.0,589.6 L999.3,591.2 L999.6,592.7 L999.9,594.3 L1000.2,595.8 L1000.5,597.4 L1000.8,599.0 L1001.1,600.5 L1001.5,602.1 L1001.8,603.6 L1002.2,605.2 L1002.5,606.7 L1002.9,608.3 L1003.2,609.8 L1003.6,611.3 L1004.0,612.9 L1004.3,614.4 L1004.7,616.0 L1005.1,617.5 L1005.5,619.1 L1005.8,620.6 L1006.2,622.2 L1006.6,623.7 L1007.0,625.2 L1007.4,626.8 L1007.8,628.3 L1008.2,629.9 L1008.6,631.4 L1009.0,632.9 L1009.5,634.5 L1009.9,636.0 L1010.3,637.5 L1010.7,639.1 L1011.1,640.6 L1011.5,642.1 L1012.0,643.7 L1012.4,645.2 L1012.8,646.7 L1013.3,648.3 L1013.7,649.8 L1014.1,651.3 L1014.5,652.9 L1015.0,654.4 L1015.4,655.9 L1015.8,657.5 L1016.3,659.0 L1016.7,660.5 L1017.2,662.0 L1017.6,663.6 L1018.0,665.1 L1018.5,666.6 L1018.9,668.1 L1019.3,669.7 L1019.8,671.2 L1020.2,672.7 L1020.7,674.2 L1021.1,675.8 L1021.6,677.3 L1022.1,678.8 L1022.5,680.3 L1023.0,681.9 L1023.4,683.4 L1023.9,684.9 L1024.4,686.4 L1024.9,687.9 L1025.3,689.4 L1025.8,691.0 L1026.3,692.5 L1026.8,694.0 L1027.3,695.5 L1027.8,697.0 L1028.3,698.5 L1028.8,700.0 L1029.3,701.5 L1029.8,703.0 L1030.3,704.5 L1030.9,706.0 L1031.4,707.5 L1031.9,709.0 L1032.4,710.6 L1032.9,712.1 L1033.4,713.6 L1034.0,715.1 L1034.5,716.6 L1035.0,718.1 L1035.6,719.6 L1036.1,721.1 L1036.7,722.6 L1037.2,724.1 L1037.8,725.6 L1038.4,727.1 L1039.0,728.6 L1039.6,730.0 L1040.2,731.5 L1040.8,732.9 L1041.5,734.4 L1042.2,735.8 L1042.8,737.2 L1043.5,738.6 L1044.3,740.0 L1045.0,741.5 L1045.8,743.0 L1046.5,744.4 L1047.4,745.9 L1048.2,747.3 L1049.0,748.7 L1049.9,750.1 L1050.9,751.4 L1051.8,752.6 L1052.8,753.8 L1053.8,754.9 L1054.9,755.9 L1056.0,756.9 L1057.3,757.9 L1058.6,758.9 L1060.1,759.9 L1061.5,760.8 L1063.0,761.5 L1064.5,762.1 L1066.0,762.4 L1067.4,762.5 L1068.9,762.3 L1070.5,761.9 L1072.0,761.4 L1073.6,760.8 L1075.1,760.0 L1076.6,759.2 L1078.0,758.3 L1079.3,757.5 L1080.5,756.6 L1081.7,755.7 L1082.8,754.6 L1083.8,753.4 L1084.9,752.2 L1085.9,750.9 L1086.8,749.5 L1087.7,748.1 L1088.6,746.8 L1089.5,745.4 L1090.3,744.1 L1091.2,742.7 L1092.0,741.4 L1092.8,740.0 L1093.5,738.7 L1094.3,737.3 L1095.0,735.8 L1095.7,734.4 L1096.4,733.0 L1097.1,731.5 L1097.7,730.1 L1098.4,728.6 L1098.9,727.1 L1099.5,725.5 L1100.7,722.5 L1101.9,719.4 L1103.1,716.2 L1104.2,712.8 L1105.4,709.4 L1106.6,705.9 L1107.8,702.3 L1109.0,698.6 L1110.2,694.9 L1111.4,691.1 L1112.6,687.2 L1113.7,683.3 L1114.9,679.3 L1116.1,675.3 L1117.3,671.3 L1118.5,667.3 L1119.7,663.2 L1120.9,659.1 L1122.1,655.1 L1123.2,651.0 L1124.4,646.9 L1125.6,642.9 L1126.8,638.8 L1128.0,634.8 L1129.2,630.8 L1130.4,626.9 L1131.6,623.0 L1132.7,619.1 L1133.9,615.3 L1135.1,611.5 L1136.3,607.8 L1137.5,604.1 L1138.7,600.5 L1139.9,596.9 L1141.1,593.5 L1142.2,590.1 L1143.4,586.7 L1144.6,583.4 L1145.8,580.2 L1147.0,577.1 L1148.2,574.1 L1149.4,571.1 L1150.6,568.2 L1151.7,565.3 L1152.9,562.6 L1154.1,559.9 L1155.3,557.3 L1156.5,554.7 L1157.7,552.2 L1158.9,549.8 L1160.1,547.5 L1161.2,545.2 L1162.4,542.9 L1163.6,540.8 L1164.8,538.7 L1166.0,536.6 L1167.2,534.6 L1168.4,532.7 L1169.5,530.8 L1170.7,528.9 L1171.9,527.1 L1173.1,525.3 L1174.3,523.6 L1175.5,521.9 L1176.7,520.3 L1177.9,518.7 L1179.0,517.1 L1180.2,515.6 L1181.4,514.1 L1182.6,512.7 L1183.8,511.2 L1185.0,509.8 L1186.2,508.5 L1187.4,507.1 L1188.5,505.8 L1189.7,504.6 L1190.9,503.3 L1192.1,502.1 L1193.3,500.9 L1194.5,499.7 L1195.7,498.5 L1196.9,497.4 L1198.0,496.3 L1199.2,495.2 L1200.4,494.2 L1201.6,493.1 L1202.8,492.1 L1204.0,491.1 L1205.2,490.1 L1206.4,489.2 L1207.5,488.2 L1208.7,487.3 L1209.9,486.4 L1211.1,485.5 L1212.3,484.7 L1213.5,483.8 L1214.7,483.0 L1215.9,482.2 L1217.0,481.4 L1218.2,480.6 L1219.4,479.8 L1220.6,479.1 L1221.8,478.3 L1223.0,477.6 L1224.2,476.9 L1225.4,476.2 L1226.5,475.5 L1227.7,474.8 L1228.9,474.2 L1230.1,473.5 L1231.3,472.9 L1232.5,472.2 L1233.7,471.6 L1234.8,471.0 L1236.0,470.4 L1237.2,469.8 L1238.4,469.3 L1239.6,468.7 L1240.8,468.1 L1242.0,467.6 L1243.2,467.1 L1244.3,466.5 L1245.5,466.0 L1246.7,465.5 L1247.9,465.0 L1249.1,464.5 L1250.3,464.0 L1251.5,463.5 L1252.7,463.0 L1253.8,462.5 L1255.0,462.1 L1256.2,461.6 L1257.4,461.2 L1258.6,460.7 L1259.8,460.3 L1261.0,459.9 L1262.2,459.4 L1263.3,459.0 L1264.5,458.6 L1265.7,458.2 L1266.9,457.8 L1268.1,457.4 L1269.3,457.0 L1270.5,456.6 L1271.7,456.2 L1272.8,455.8 L1274.0,455.4 L1275.2,455.0 L1276.4,454.7 L1277.6,454.3 L1278.8,453.9 L1280.0,453.6 L1281.2,453.2 L1282.3,452.8 L1283.5,452.5 L1284.7,452.1 L1285.9,451.8 L1287.1,451.4 L1288.3,451.1 L1289.5,450.8 L1290.7,450.4 L1291.8,450.1 L1293.0,449.8 L1294.2,449.4 L1295.4,449.1 L1296.6,448.8 L1297.8,448.5 L1299.0,448.2 L1300.2,447.9 L1301.3,447.5 L1302.5,447.2 L1303.7,446.9 L1304.9,446.6 L1306.1,446.3 L1307.3,446.0 L1308.5,445.7 L1309.6,445.4 L1310.8,445.1 L1312.0,444.8 L1313.2,444.6 L1314.4,444.3 L1315.6,444.0 L1316.8,443.7 L1318.0,443.4 L1319.1,443.1 L1320.3,442.9 L1321.5,442.6 L1322.7,442.3 L1323.9,442.1 L1325.1,441.8 L1326.3,441.5 L1327.5,441.3 L1328.6,441.0 L1329.8,440.7 L1331.0,440.5 L1332.2,440.2 L1333.4,440.0 L1334.6,439.7 L1335.8,439.5 L1337.0,439.2 L1338.1,439.0 L1339.3,438.7 L1340.5,438.5 L1341.7,438.3 L1342.9,438.0 L1344.1,437.8 L1345.3,437.6 L1346.5,437.3 L1347.6,437.1 L1348.8,436.9 L1350.0,436.7 L1351.2,436.4 L1352.4,436.2 L1353.6,436.0 L1354.8,435.8 L1356.0,435.6 L1357.1,435.4 L1358.3,435.2 L1359.5,434.9 L1360.7,434.7 L1361.9,434.5 L1363.1,434.3 L1364.3,434.2 L1365.5,434.0 L1366.6,433.8 L1367.8,433.6 L1369.0,433.4 L1370.2,433.2 L1371.4,433.0 L1372.6,432.8 L1373.8,432.7 L1374.9,432.5 L1376.1,432.3 L1377.3,432.2 L1378.5,432.0 L1379.7,431.8 L1380.9,431.7 L1382.1,431.5 L1383.3,431.3 L1384.4,431.2 L1385.6,431.0 L1386.8,430.9 L1388.0,430.7 L1389.2,430.6 L1390.4,430.4 L1391.6,430.3 L1392.8,430.1 L1393.9,430.0 L1395.1,429.9 L1396.3,429.7 L1397.5,429.6 L1398.7,429.5 L1399.9,429.3 L1401.1,429.2 L1402.3,429.1 L1403.4,428.9 L1404.6,428.8 L1405.8,428.7 L1407.0,428.6 L1408.2,428.4 L1409.4,428.3 L1410.6,428.2 L1411.8,428.1 L1412.9,428.0 L1414.1,427.8 L1415.3,427.7 L1416.5,427.6 L1417.7,427.5 L1418.9,427.4 L1420.1,427.3 L1421.3,427.2 L1422.4,427.0 L1423.6,426.9 L1424.8,426.8 L1426.0,426.7 L1427.2,426.6 L1428.4,426.5 L1429.6,426.3 L1430.8,426.2 L1431.9,426.1 L1433.1,426.0 L1434.3,425.8 L1435.5,425.7 L1436.7,425.6 L1437.9,425.5 L1439.1,425.3 L1440.3,425.2 L1441.4,425.1 L1442.6,424.9 L1443.8,424.8 L1445.0,424.6" stroke="#000" stroke-width="6.3"/>
<path d="M1440.0,425.0 L1443.1,424.6 L1446.2,424.2 L1449.3,423.8 L1452.4,423.4 L1455.5,423.1 L1458.6,422.7 L1461.7,422.4 L1464.8,422.0 L1468.0,421.7 L1471.1,421.4 L1474.2,421.1 L1477.3,420.8 L1480.4,420.5 L1483.5,420.2 L1486.6,420.0 L1489.8,419.7 L1492.9,419.5 L1496.0,419.3 L1499.1,419.1 L1502.2,418.9 L1505.4,418.7 L1508.5,418.5 L1511.6,418.3 L1514.7,418.2 L1517.8,418.0 L1521.0,417.9 L1524.1,417.7 L1527.2,417.6 L1530.3,417.4 L1533.5,417.3 L1536.6,417.1 L1539.7,417.0 L1542.8,416.9 L1546.0,416.7 L1549.1,416.6 L1552.2,416.4 L1555.3,416.3 L1558.5,416.2 L1561.6,416.0 L1564.7,415.9 L1567.8,415.8 L1571.0,415.7 L1574.1,415.5 L1577.2,415.4 L1580.3,415.2 L1583.5,415.1 L1586.6,414.9 L1589.7,414.7 L1592.8,414.5 L1595.9,414.2 L1599.0,413.9 L1602.2,413.7 L1605.3,413.4 L1608.4,413.1 L1611.5,412.9 L1614.6,412.6 L1617.8,412.4 L1620.9,412.2 L1624.0,412.0 L1627.1,411.9 L1630.2,411.7 L1633.4,411.6 L1636.5,411.5 L1639.6,411.3 L1642.7,411.2 L1645.9,411.1 L1649.0,411.0 L1652.1,410.9 L1655.2,410.8 L1658.4,410.7 L1661.5,410.7 L1664.6,410.6 L1667.7,410.5 L1670.9,410.4 L1674.0,410.3 L1677.1,410.2 L1680.2,410.1 L1683.4,410.0 L1686.5,409.9 L1689.6,409.9 L1692.8,409.8 L1695.9,409.6 L1699.0,409.5 L1702.1,409.4 L1705.3,409.3 L1708.4,409.2 L1711.5,409.1 L1714.6,408.9 L1717.8,408.8 L1720.9,408.7 L1724.0,408.6 L1727.1,408.4 L1730.3,408.3 L1733.4,408.2 L1736.5,408.0 L1739.6,407.9 L1742.8,407.8 L1745.9,407.6 L1749.0,407.5" stroke="#000" stroke-width="6.8"/>
<path d="M453.0,386.0 L482.0,345.5 L487.5,344.6 L492.9,343.7 L498.4,342.8 L503.9,341.9 L509.4,341.0 L514.9,340.2 L520.4,339.4 L525.9,338.7 L531.4,337.9 L536.9,337.1 L542.4,336.4 L547.9,335.7 L553.4,335.0 L558.9,334.3 L564.4,333.6 L569.9,332.9 L575.4,332.3 L580.9,331.6 L586.4,330.9 L591.9,330.3 L597.5,329.6 L603.0,329.0 L608.5,328.3 L614.0,327.7 L619.5,327.0 L625.0,326.4 L630.5,325.7 L636.1,325.1 L641.6,324.4 L647.1,323.7 L652.6,323.1 L658.1,322.4 L663.6,321.7 L669.1,321.0 L674.6,320.2 L680.1,319.5 L685.6,318.8 L691.1,318.0 L696.6,317.2 L702.1,316.4 L707.5,315.6 L713.0,314.8 L718.5,313.9 L724.0,313.0 L729.4,312.0 L734.9,310.9 L740.3,309.8 L745.8,308.7 L751.2,307.6 L756.7,306.5 L762.1,305.5 L767.6,304.6 L773.1,303.9 L778.6,303.1 L784.1,302.3 L789.6,301.5 L795.1,300.8 L800.6,300.1 L806.2,299.5 L811.7,299.0 L817.2,298.6 L822.7,298.4 L828.3,298.3 L833.8,298.4 L839.4,298.5 L845.0,298.8 L850.6,299.1 L856.1,299.5 L861.6,299.9 L867.1,300.4 L872.5,301.1 L878.1,302.4 L883.5,304.0 L888.8,306.0 L893.8,308.2 L898.5,310.7 L902.9,313.9 L907.1,317.8 L911.0,322.0 L913.4,330.6 L914.7,339.3 L915.6,348.1 L916.4,357.0 L917.0,365.9 L917.5,374.8 L918.1,383.8 L918.7,392.7 L919.4,401.5 L920.2,410.4 L920.9,419.3 L921.7,428.1 L922.4,437.0 L923.1,445.9 L923.7,454.8 L924.3,463.7 L924.8,472.5 L925.3,481.4 L925.7,490.3 L926.1,499.2 L926.6,508.1 L927.0,517.0 L927.4,525.9 L927.8,534.8 L928.2,543.7 L928.7,552.6 L929.1,561.5 L929.6,570.3 L930.2,579.2 L930.7,588.1 L931.3,597.0 L931.8,605.9 L932.3,614.8 L932.8,623.7 L933.3,632.5 L933.7,641.4 L934.2,650.3 L934.7,659.2 L935.2,668.1 L935.6,677.0 L936.0,685.9 L936.4,694.8 L936.8,703.7 L937.1,712.6 L937.4,721.5 L937.6,730.4 L937.9,739.3 L938.1,748.2 L938.3,757.1 L938.5,766.0 L938.7,774.9 L939.0,783.8 L939.2,792.7 L939.5,801.6 L939.7,810.5 L940.0,819.4 L940.3,828.3 L940.5,837.2 L940.8,846.0 L941.1,854.9 L941.4,863.8 L941.6,872.7 L941.9,881.6 L942.2,890.5 L942.4,899.4 L942.7,908.3 L943.0,917.2 L943.3,926.1 L943.6,935.0 L943.8,943.9 L944.1,952.8 L944.4,961.7 L944.7,970.6 L944.9,979.5 L945.2,988.4 L945.4,997.3 L945.7,1006.2 L945.9,1015.1 L946.1,1024.0 L946.4,1032.9 L946.6,1041.8 L946.8,1050.7 L947.1,1059.6 L947.3,1068.5 L947.5,1077.4 L947.7,1086.3 L947.9,1095.2 L948.1,1104.1 L948.3,1113.0 L948.5,1121.9 L948.7,1130.8 L948.8,1139.7 L949.0,1148.6 L949.2,1157.5 L949.4,1166.4 L949.5,1175.3 L949.7,1184.2 L949.8,1193.1 L950.0,1202.0" stroke="#f00" stroke-width="8.5" stroke-dasharray="27 28"/>
<path d="M1054.0,1202.0 L1054.1,1198.7 L1054.2,1195.4 L1054.4,1192.2 L1054.5,1188.9 L1054.6,1185.6 L1054.7,1182.3 L1054.8,1179.0 L1054.9,1175.7 L1055.0,1172.5 L1055.2,1169.2 L1055.3,1165.9 L1055.4,1162.6 L1055.5,1159.3 L1055.6,1156.0 L1055.7,1152.8 L1055.8,1149.5 L1055.9,1146.2 L1056.0,1142.9 L1056.1,1139.6 L1056.2,1136.4 L1056.3,1133.1 L1056.4,1129.8 L1056.5,1126.5 L1056.6,1123.2 L1056.7,1119.9 L1056.8,1116.7 L1056.9,1113.4 L1057.0,1110.1 L1057.1,1106.8 L1057.2,1103.5 L1057.3,1100.2 L1057.4,1097.0 L1057.5,1093.7 L1057.6,1090.4 L1057.7,1087.1 L1057.8,1083.8 L1057.9,1080.5 L1057.9,1077.3 L1058.0,1074.0 L1058.1,1070.7 L1058.2,1067.4 L1058.3,1064.1 L1058.4,1060.9 L1058.4,1057.6 L1058.5,1054.3 L1058.6,1051.0 L1058.7,1047.7 L1058.7,1044.4 L1058.8,1041.2 L1058.9,1037.9 L1058.9,1034.6 L1059.0,1031.3 L1059.1,1028.0 L1059.2,1024.7 L1059.2,1021.5 L1059.3,1018.2 L1059.4,1014.9 L1059.4,1011.6 L1059.5,1008.3 L1059.6,1005.0 L1059.6,1001.8 L1059.7,998.5 L1059.8,995.2 L1059.8,991.9 L1059.9,988.6 L1060.0,985.3 L1060.1,982.1 L1060.1,978.8 L1060.2,975.5 L1060.3,972.2 L1060.3,968.9 L1060.4,965.6 L1060.5,962.4 L1060.6,959.1 L1060.6,955.8 L1060.7,952.5 L1060.8,949.2 L1060.9,945.9 L1060.9,942.7 L1061.0,939.4 L1061.1,936.1 L1061.2,932.8 L1061.3,929.5 L1061.3,926.2 L1061.4,923.0 L1061.5,919.7 L1061.6,916.4 L1061.6,913.1 L1061.7,909.8 L1061.8,906.5 L1061.9,903.3 L1062.0,900.0 L1062.0,896.7 L1062.1,893.4 L1062.2,890.1 L1062.3,886.8 L1062.4,883.6 L1062.5,880.3 L1062.5,877.0 L1062.6,873.7 L1062.7,870.4 L1062.8,867.1 L1062.9,863.9 L1063.0,860.6 L1063.1,857.3 L1063.2,854.0 L1063.3,850.7 L1063.4,847.4 L1063.4,844.2 L1063.5,840.9 L1063.6,837.6 L1063.7,834.3 L1063.8,831.0 L1063.9,827.7 L1064.0,824.5 L1064.1,821.2 L1064.2,817.9 L1064.3,814.6 L1064.4,811.3 L1064.5,808.1 L1064.6,804.8 L1064.7,801.5 L1064.8,798.2 L1064.9,794.9 L1065.0,791.6 L1065.1,788.4 L1065.3,785.1 L1065.4,781.8 L1065.5,778.5 L1065.6,775.2 L1065.7,771.9 L1065.8,768.7 L1065.9,765.4 L1066.0,762.1 L1066.1,758.8 L1066.3,755.5 L1066.4,752.3 L1066.5,749.0 L1066.6,745.7 L1066.7,742.4 L1066.9,739.1 L1067.0,735.8 L1067.1,732.6 L1067.2,729.3 L1067.4,726.0 L1067.5,722.7 L1067.6,719.4 L1067.8,716.2 L1067.9,712.9 L1068.0,709.6 L1068.2,706.3 L1068.3,703.0 L1068.4,699.7 L1068.6,696.5 L1068.7,693.2 L1068.9,689.9 L1069.0,686.6 L1069.2,683.3 L1069.4,680.1 L1069.5,676.8 L1069.7,673.5 L1069.9,670.2 L1070.0,666.9 L1070.2,663.7 L1070.4,660.4 L1070.6,657.1 L1070.7,653.8 L1070.9,650.6 L1071.1,647.3 L1071.3,644.0 L1071.4,640.7 L1071.6,637.4 L1071.8,634.2 L1072.0,630.9 L1072.2,627.6 L1072.4,624.3 L1072.5,621.0 L1072.7,617.8 L1072.9,614.5 L1073.1,611.2 L1073.3,607.9 L1073.4,604.6 L1073.6,601.4 L1073.8,598.1 L1074.0,594.8 L1074.2,591.5 L1074.3,588.2 L1074.5,585.0 L1074.7,581.7 L1074.8,578.4 L1075.0,575.1 L1075.2,571.8 L1075.4,568.6 L1075.5,565.3 L1075.7,562.0 L1075.9,558.7 L1076.0,555.4 L1076.2,552.2 L1076.4,548.9 L1076.6,545.6 L1076.7,542.3 L1076.9,539.1 L1077.1,535.8 L1077.3,532.5 L1077.4,529.2 L1077.6,525.9 L1077.8,522.7 L1078.0,519.4 L1078.1,516.1 L1078.3,512.8 L1078.5,509.5 L1078.6,506.3 L1078.8,503.0 L1079.0,499.7 L1079.2,496.4 L1079.3,493.1 L1079.5,489.9 L1079.7,486.6 L1079.8,483.3 L1080.0,480.0 L1080.2,476.7 L1080.3,473.5 L1080.5,470.2 L1080.7,466.9 L1080.8,463.6 L1081.0,460.3 L1081.2,457.1 L1081.4,453.8 L1081.5,450.5 L1081.7,447.2 L1081.9,443.9 L1082.1,440.7 L1082.3,437.4 L1082.5,434.1 L1082.7,430.8 L1082.9,427.6 L1083.1,424.3 L1083.3,421.0 L1083.5,417.7 L1083.7,414.4 L1083.9,411.2 L1084.1,407.9 L1084.3,404.6 L1084.5,401.3 L1084.8,398.0 L1085.0,394.8 L1085.2,391.5 L1085.4,388.2 L1085.7,384.9 L1085.9,381.6 L1086.2,378.4 L1086.5,375.1 L1086.8,371.8 L1087.1,368.6 L1087.4,365.3 L1087.7,362.0 L1088.0,358.8 L1088.4,355.5 L1088.7,352.2 L1089.1,348.9 L1089.6,345.7 L1090.0,342.4 L1090.6,339.1 L1091.2,335.9 L1091.8,332.8 L1092.6,329.6 L1093.7,326.4 L1095.0,323.3 L1096.5,320.4 L1098.2,317.7 L1100.3,315.1 L1102.7,312.8 L1105.3,310.8 L1108.1,309.3 L1111.1,307.9 L1114.3,306.8 L1117.4,305.7 L1120.5,304.7 L1123.6,303.7 L1126.8,302.8 L1130.0,302.0 L1133.2,301.3 L1136.4,300.8 L1139.7,300.2 L1142.9,299.7 L1146.2,299.2 L1149.4,298.7 L1152.7,298.3 L1156.0,297.9 L1159.3,297.7 L1162.6,297.5 L1165.8,297.5 L1169.1,297.5 L1172.4,297.6 L1175.6,297.8 L1178.9,297.9 L1182.2,298.2 L1185.5,298.4 L1188.8,298.7 L1192.0,299.0 L1195.3,299.3 L1198.6,299.6 L1201.9,299.9 L1205.1,300.3 L1208.4,300.6 L1211.7,300.9 L1214.9,301.3 L1218.2,301.6 L1221.5,302.0 L1224.7,302.4 L1228.0,302.9 L1231.2,303.4 L1234.5,303.9 L1237.7,304.4 L1240.9,304.9 L1244.2,305.5 L1247.4,306.0 L1250.7,306.6 L1253.9,307.1 L1257.2,307.7 L1260.4,308.2 L1263.6,308.8 L1266.9,309.3 L1270.1,309.9 L1273.3,310.4 L1276.6,311.0 L1279.8,311.6 L1283.0,312.2 L1286.3,312.8 L1289.5,313.4 L1292.7,314.0 L1295.9,314.6 L1299.2,315.2 L1302.4,315.8 L1305.6,316.4 L1308.9,317.0 L1312.1,317.6 L1315.3,318.2 L1318.6,318.8 L1321.8,319.3 L1325.0,319.9 L1328.3,320.4 L1331.5,321.0 L1334.8,321.5 L1338.0,322.0 L1341.2,322.6 L1344.5,323.1 L1347.7,323.6 L1351.0,324.2 L1354.2,324.7 L1357.4,325.2 L1360.7,325.7 L1363.9,326.2 L1367.2,326.7 L1370.4,327.1 L1373.7,327.6 L1376.9,328.0 L1380.2,328.4 L1383.5,328.9 L1386.7,329.3 L1390.0,329.7 L1393.2,330.1 L1396.5,330.5 L1399.8,330.9 L1403.0,331.2 L1406.3,331.6 L1409.5,332.0 L1412.8,332.4 L1416.1,332.7 L1419.3,333.1 L1422.6,333.5 L1425.9,333.8 L1429.1,334.2 L1432.4,334.5 L1435.7,334.9 L1438.9,335.2 L1442.2,335.6 L1445.5,335.9 L1448.7,336.2 L1452.0,336.6 L1455.3,336.9 L1458.5,337.2 L1461.8,337.5 L1465.1,337.9 L1468.3,338.2 L1471.6,338.6 L1474.9,338.9 L1478.1,339.2 L1481.4,339.6 L1484.7,340.0 L1487.9,340.3 L1491.2,340.7 L1494.4,341.1 L1497.7,341.5 L1501.0,341.9 L1504.2,342.3 L1507.5,342.7 L1510.7,343.1 L1514.0,343.5 L1516.5,345.5 L1541.0,373.0" stroke="#f00" stroke-width="8.5" stroke-dasharray="27 28"/>
<path d="M255.0,385.5 L471.0,385.5 L482.3,384.0 L493.6,382.5 L505.0,381.0 L516.3,379.6 L527.6,378.1 L538.9,376.6 L550.2,375.2 L561.6,373.7 L572.9,372.3 L584.2,370.9 L595.5,369.4 L606.9,368.0 L618.2,366.6 L629.5,365.2 L640.8,363.8 L652.2,362.4 L663.5,361.1 L674.8,359.7 L686.2,358.3 L697.5,357.0 L708.8,355.6 L720.2,354.3 L731.5,352.9 L742.8,351.6 L754.2,350.3 L765.5,349.0 L776.9,347.7 L788.2,346.4 L799.5,345.1 L810.9,343.8 L822.2,342.5 L833.6,341.2 L844.9,339.9 L856.3,338.7 L867.6,337.4 L879.0,336.2 L890.3,335.0 L901.7,333.7 L913.0,332.5 L915.3,333.0 L917.5,333.7 L919.7,334.5 L921.8,335.4 L923.8,336.4 L925.9,337.7 L927.8,339.1 L929.6,340.6 L931.1,342.1 L932.5,343.8 L933.8,345.6 L935.1,347.6 L936.3,349.6 L937.4,351.7 L938.5,353.8 L939.5,355.9 L940.5,358.1 L941.4,360.3 L942.4,362.5 L943.2,364.6 L944.1,366.7 L944.9,368.8 L945.7,371.0 L946.5,373.2 L947.2,375.3 L948.0,377.5 L948.7,379.7 L949.4,382.0 L950.0,384.2 L950.7,386.4 L951.3,388.7 L952.0,390.9 L952.6,393.1 L953.2,395.4 L953.8,397.6 L954.4,399.9 L955.0,402.1 L955.6,404.3 L956.2,406.6 L956.8,408.8 L957.3,411.0 L957.9,413.3 L958.5,415.5 L959.1,417.8 L959.6,420.0 L960.2,422.3 L960.7,424.5 L961.2,426.8 L961.8,429.0 L962.3,431.3 L962.8,433.5 L963.3,435.8 L963.8,438.1 L964.3,440.3 L964.8,442.6 L965.3,444.9 L965.7,447.1 L966.2,449.4 L966.6,451.7 L967.1,453.9 L967.5,456.2 L967.9,458.5 L968.3,460.7 L968.7,463.0 L969.1,465.3 L969.5,467.6 L969.9,469.9 L970.2,472.1 L970.6,474.4 L970.9,476.7 L971.3,479.0 L971.6,481.3 L972.0,483.6 L972.3,485.8 L972.7,488.1 L973.0,490.4 L973.3,492.7 L973.6,495.0 L974.0,497.3 L974.3,499.6 L974.6,501.9 L974.9,504.2 L975.2,506.5 L975.5,508.8 L975.8,511.1 L976.1,513.4 L976.4,515.6 L976.7,517.9 L977.0,520.2 L977.3,522.5 L977.6,524.8 L977.9,527.1 L978.2,529.4 L978.5,531.7 L978.8,534.0 L979.1,536.3 L979.4,538.6 L979.7,540.9 L980.0,543.2 L980.4,545.5 L980.7,547.8 L981.0,550.1 L981.3,552.4 L981.6,554.6 L982.0,556.9 L982.3,559.2 L982.6,561.5 L982.9,563.8 L983.2,566.1 L983.5,568.4 L983.8,570.7 L984.1,573.0 L984.4,575.3 L984.7,577.6 L985.0,579.9 L985.3,582.2 L985.6,584.5 L985.8,586.8 L986.1,589.1 L986.3,591.4 L986.6,593.7 L986.8,596.0 L987.0,598.3 L987.3,600.6 L987.5,602.9 L987.7,605.2 L987.9,607.5 L988.2,609.8 L988.4,612.1 L988.6,614.4 L988.8,616.7 L989.0,619.0 L989.2,621.3 L989.4,623.6 L989.7,625.9 L989.9,628.2 L990.1,630.5 L990.3,632.8 L990.5,635.1 L990.7,637.4 L990.9,639.7 L991.2,642.0 L991.4,644.3 L991.6,646.6 L991.8,648.9 L992.1,651.2 L992.3,653.5 L992.5,655.8 L992.8,658.1 L993.0,660.4 L993.3,662.7 L993.6,665.0 L993.8,667.3 L994.1,669.6 L994.3,671.9 L994.6,674.2 L994.8,676.5 L995.1,678.8 L995.4,681.1 L995.6,683.4 L995.9,685.7 L996.2,688.0 L996.4,690.3 L996.7,692.6 L997.0,694.9 L997.3,697.2 L997.5,699.5 L997.8,701.8 L998.1,704.1 L998.4,706.4 L998.7,708.7 L998.9,711.0 L999.2,713.3 L999.5,715.6 L999.8,717.9 L1000.1,720.1 L1000.4,722.4 L1000.7,724.7 L1001.0,727.0 L1001.3,729.3 L1001.6,731.6 L1001.9,733.9 L1002.2,736.2 L1002.5,738.5 L1002.8,740.8 L1003.1,743.1 L1003.4,745.4 L1003.8,747.7 L1004.1,750.0 L1004.4,752.2 L1004.7,754.5 L1005.0,756.8 L1005.4,759.1 L1005.7,761.4 L1006.0,763.7 L1006.4,766.0 L1006.7,768.3 L1007.1,770.5 L1007.4,772.8 L1007.8,775.1 L1008.1,777.4 L1008.5,779.7 L1008.8,782.0 L1009.2,784.3 L1009.6,786.5 L1009.9,788.8 L1010.3,791.1 L1010.7,793.4 L1011.1,795.7 L1011.5,798.0 L1011.9,800.2 L1012.2,802.5 L1012.6,804.8 L1013.0,807.1 L1013.4,809.4 L1013.8,811.6 L1014.2,813.9 L1014.6,816.2 L1015.0,818.5 L1015.4,820.7 L1015.8,823.0 L1016.2,825.3 L1016.7,827.6 L1017.1,829.9 L1017.5,832.1 L1017.9,834.4 L1018.3,836.7 L1018.7,839.0 L1019.1,841.2 L1019.5,843.5 L1019.9,845.8 L1020.4,848.1 L1020.8,850.4 L1021.2,852.6 L1021.6,854.9 L1022.0,857.2 L1022.4,859.5 L1022.8,861.8 L1023.3,864.0 L1023.7,866.3 L1024.1,868.6 L1024.6,870.9 L1025.0,873.1 L1025.5,875.4 L1025.9,877.7 L1026.4,879.9 L1026.9,882.2 L1027.4,884.5 L1027.9,886.7 L1028.4,889.0 L1028.9,891.2 L1029.5,893.4 L1030.0,895.7 L1030.6,897.9 L1031.2,900.2 L1031.8,902.4 L1032.3,904.7 L1032.9,907.0 L1033.5,909.3 L1034.2,911.6 L1034.8,913.9 L1035.5,916.2 L1036.2,918.4 L1036.9,920.6 L1037.7,922.9 L1038.4,925.0 L1039.3,927.2 L1040.2,929.2 L1041.1,931.3 L1042.1,933.3 L1043.1,935.2 L1044.3,937.3 L1045.7,939.5 L1047.3,941.8 L1049.0,943.7 L1050.7,945.2 L1052.4,945.9 L1054.2,945.6 L1056.1,944.1 L1057.8,942.2 L1059.4,940.5 L1060.9,938.7 L1062.2,936.8 L1063.4,934.8 L1064.5,932.7 L1065.4,930.7 L1066.4,928.6 L1067.3,926.6 L1068.2,924.5 L1069.0,922.3 L1069.9,920.2 L1070.6,918.0 L1071.4,915.8 L1072.0,913.6 L1072.6,911.3 L1073.1,909.0 L1073.6,906.6 L1074.0,904.3 L1074.3,901.9 L1075.9,896.7 L1077.5,891.5 L1079.1,886.4 L1080.8,881.2 L1082.4,876.1 L1084.0,870.9 L1085.7,865.8 L1087.3,860.7 L1088.9,855.5 L1090.5,850.5 L1092.2,845.4 L1093.8,840.3 L1095.4,835.3 L1097.0,830.3 L1098.7,825.3 L1100.3,820.3 L1101.9,815.4 L1103.6,810.5 L1105.2,805.6 L1106.8,800.8 L1108.4,795.9 L1110.1,791.2 L1111.7,786.4 L1113.3,781.7 L1114.9,777.0 L1116.6,772.4 L1118.2,767.8 L1119.8,763.2 L1121.4,758.7 L1123.1,754.2 L1124.7,749.7 L1126.3,745.3 L1128.0,740.9 L1129.6,736.6 L1131.2,732.3 L1132.8,728.0 L1134.5,723.8 L1136.1,719.6 L1137.7,715.5 L1139.3,711.4 L1141.0,707.3 L1142.6,703.3 L1144.2,699.4 L1145.9,695.4 L1147.5,691.5 L1149.1,687.7 L1150.7,683.9 L1152.4,680.1 L1154.0,676.4 L1155.6,672.7 L1157.2,669.0 L1158.9,665.4 L1160.5,661.8 L1162.1,658.3 L1163.8,654.8 L1165.4,651.3 L1167.0,647.9 L1168.6,644.5 L1170.3,641.2 L1171.9,637.9 L1173.5,634.6 L1175.1,631.4 L1176.8,628.2 L1178.4,625.1 L1180.0,621.9 L1181.7,618.9 L1183.3,615.8 L1184.9,612.8 L1186.5,609.9 L1188.2,606.9 L1189.8,604.0 L1191.4,601.2 L1193.0,598.4 L1194.7,595.6 L1196.3,592.8 L1197.9,590.1 L1199.5,587.4 L1201.2,584.8 L1202.8,582.2 L1204.4,579.6 L1206.1,577.1 L1207.7,574.6 L1209.3,572.1 L1210.9,569.6 L1212.6,567.2 L1214.2,564.9 L1215.8,562.5 L1217.4,560.2 L1219.1,557.9 L1220.7,555.7 L1222.3,553.5 L1224.0,551.3 L1225.6,549.1 L1227.2,547.0 L1228.8,544.9 L1230.5,542.9 L1232.1,540.9 L1233.7,538.9 L1235.3,536.9 L1237.0,534.9 L1238.6,533.0 L1240.2,531.2 L1241.9,529.3 L1243.5,527.5 L1245.1,525.7 L1246.7,523.9 L1248.4,522.2 L1250.0,520.4 L1251.6,518.8 L1253.2,517.1 L1254.9,515.4 L1256.5,513.8 L1258.1,512.2 L1259.8,510.7 L1261.4,509.1 L1263.0,507.6 L1264.6,506.1 L1266.3,504.7 L1267.9,503.2 L1269.5,501.8 L1271.1,500.4 L1272.8,499.0 L1274.4,497.7 L1276.0,496.3 L1277.6,495.0 L1279.3,493.7 L1280.9,492.4 L1282.5,491.2 L1284.2,489.9 L1285.8,488.7 L1287.4,487.5 L1289.0,486.3 L1290.7,485.2 L1292.3,484.0 L1293.9,482.9 L1295.5,481.8 L1297.2,480.7 L1298.8,479.6 L1300.4,478.6 L1302.1,477.5 L1303.7,476.5 L1305.3,475.5 L1306.9,474.5 L1308.6,473.5 L1310.2,472.5 L1311.8,471.6 L1313.4,470.6 L1315.1,469.7 L1316.7,468.8 L1318.3,467.9 L1320.0,467.0 L1321.6,466.1 L1323.2,465.2 L1324.8,464.4 L1326.5,463.5 L1328.1,462.7 L1329.7,461.9 L1331.3,461.1 L1333.0,460.3 L1334.6,459.5 L1336.2,458.7 L1337.9,457.9 L1339.5,457.2 L1341.1,456.4 L1342.7,455.7 L1344.4,455.0 L1346.0,454.3 L1347.6,453.5 L1349.2,452.8 L1350.9,452.2 L1352.5,451.5 L1354.1,450.8 L1355.7,450.1 L1357.4,449.5 L1359.0,448.8 L1360.6,448.2 L1362.3,447.5 L1363.9,446.9 L1365.5,446.3 L1367.1,445.7 L1368.8,445.1 L1370.4,444.5 L1372.0,443.9 L1373.6,443.3 L1375.3,442.7 L1376.9,442.1 L1378.5,441.6 L1380.2,441.0 L1381.8,440.4 L1383.4,439.9 L1385.0,439.3 L1386.7,438.8 L1388.3,438.3 L1389.9,437.7 L1391.5,437.2 L1393.2,436.7 L1394.8,436.2 L1396.4,435.6 L1398.1,435.1 L1399.7,434.6 L1401.3,434.1 L1402.9,433.7 L1404.6,433.2 L1406.2,432.7 L1407.8,432.2 L1409.4,431.7 L1411.1,431.3 L1412.7,430.8 L1414.3,430.3 L1416.0,429.9 L1417.6,429.4 L1419.2,429.0 L1420.8,428.5 L1422.5,428.1 L1424.1,427.7 L1425.7,427.2 L1427.3,426.8 L1429.0,426.4 L1430.6,425.9 L1432.2,425.5 L1433.8,425.1 L1435.5,424.7 L1437.1,424.3 L1438.7,423.9 L1440.4,423.5 L1442.0,423.1 L1443.6,422.7 L1445.2,422.4 L1446.9,422.0 L1448.5,421.6 L1450.1,421.2 L1451.7,420.9 L1453.4,420.5 L1455.0,420.1 L1456.6,419.8 L1458.3,419.4 L1459.9,419.1 L1461.5,418.8 L1463.1,418.4 L1464.8,418.1 L1466.4,417.8 L1468.0,417.5 L1469.6,417.1 L1471.3,416.8 L1472.9,416.5 L1474.5,416.2 L1476.2,415.9 L1477.8,415.7 L1479.4,415.4 L1481.0,415.1 L1482.7,414.8 L1484.3,414.6 L1485.9,414.3 L1487.5,414.1 L1489.2,413.8 L1490.8,413.6 L1492.4,413.4 L1494.1,413.1 L1495.7,412.9 L1497.3,412.7 L1498.9,412.5 L1500.6,412.3 L1502.2,412.1 L1503.8,411.9 L1505.4,411.8 L1507.1,411.6 L1508.7,411.5 L1510.3,411.3 L1511.9,411.2 L1513.6,411.0 L1515.2,410.9 L1516.8,410.8 L1518.5,410.7 L1520.1,410.6 L1521.7,410.5 L1523.3,410.5 L1525.0,410.4 L1526.6,410.4 L1528.2,410.3 L1529.8,410.3 L1531.5,410.3 L1533.1,410.3 L1534.7,410.3 L1536.4,410.3 L1538.0,410.3 L1539.6,410.4 L1541.2,410.4 L1542.9,410.5 L1544.5,410.6 L1546.1,410.7 L1547.7,410.8 L1549.4,410.9 L1551.0,411.0" stroke="#f00" stroke-width="8.3"/>
</g>
<rect x="302.0" y="829.7" width="580.8" height="326.1" fill="#fff" stroke="#8c8c8c" stroke-width="6.2"/>
<line x1="326" y1="868.25" x2="470" y2="868.25" stroke="#000" stroke-width="3.8" stroke-dasharray="4.5 9.4"/>
<line x1="326" y1="930.75" x2="470" y2="930.75" stroke="#000" stroke-width="4.5" stroke-dasharray="36 21"/>
<line x1="326" y1="992.75" x2="470" y2="992.75" stroke="#000" stroke-width="4.5"/>
<line x1="324" y1="1054.9" x2="467" y2="1054.9" stroke="#f00" stroke-width="9.6" stroke-dasharray="32.5 27.5 28 27 28 50"/>
<line x1="324" y1="1116.8" x2="471.5" y2="1116.8" stroke="#f00" stroke-width="9.8"/>
<text class="lg" x="480.3" y="884.85" style="letter-spacing:0.2px">Experiment, UG</text>
<text class="lg" x="480.3" y="947.65" style="letter-spacing:0.68px">Steady, UG</text>
<text class="lg" x="480.3" y="1009.55" style="letter-spacing:0.27px">Dynamic, UG</text>
<text class="lg" x="480.3" y="1073.50" style="letter-spacing:0.68px">Steady, KU</text>
<text class="lg" x="480.3" y="1134.25" style="letter-spacing:0.27px">Dynamic, KU</text>
<text class="tl" text-anchor="end" x="234.6" y="76.1">0.2</text>
<text class="tl" text-anchor="end" x="234.6" y="238.1">0.1</text>
<text class="tl" text-anchor="end" x="234.6" y="402.6">0</text>
<text class="tl" text-anchor="end" x="234.6" y="565.1">-0.1</text>
<text class="tl" text-anchor="end" x="234.6" y="729.6">-0.2</text>
<text class="tl" text-anchor="end" x="234.6" y="892.6">-0.3</text>
<text class="tl" text-anchor="end" x="234.6" y="1057.1">-0.4</text>
<text class="tl" text-anchor="end" x="234.6" y="1217.6">-0.5</text>
<text class="tl" text-anchor="middle" x="256.3" y="1268.9">90</text>
<text class="tl" text-anchor="middle" x="504.3" y="1268.9">120</text>
<text class="tl" text-anchor="middle" x="753" y="1268.9">150</text>
<text class="tl" text-anchor="middle" x="1002.5" y="1268.9">180</text>
<text class="tl" text-anchor="middle" x="1250.5" y="1268.9">210</text>
<text class="tl" text-anchor="middle" x="1500" y="1268.9">240</text>
<text class="tl" text-anchor="middle" x="1748.6" y="1268.9">270</text>
<g id="xlabel">
<text transform="matrix(0.8928 0 0 1 874.07 1347.50)" style="font-weight:normal;font-style:italic" font-size="76.92" fill="#222" stroke="#222" stroke-width="1.6" stroke-linejoin="round">Φ</text>
<text transform="matrix(1.0059 0 0 1 927.50 1382.50)" style="font-weight:bold;font-style:italic" font-size="55.23" fill="#222">R</text>
<text transform="matrix(1.0283 0 0 1 982.13 1350.02)" style="font-weight:bold;font-style:italic" font-size="71.33" fill="#222">(deg)</text>
</g>
<g id="ylabel">
<text transform="matrix(0 -1.2603 1 0.1900 91.30 739.99)" style="font-weight:normal;font-style:normal" font-size="77.12" fill="#222">Δ</text>
<text transform="matrix(0 -0.9985 1 0.0000 91.47 673.29)" style="font-weight:bold;font-style:italic" font-size="73.03" fill="#222">C</text>
<text transform="matrix(0 -1.4383 1 0.0000 126.10 625.93)" style="font-weight:normal;font-style:italic" font-size="53.19" fill="#222">l</text>
<text transform="matrix(0 -1.0834 1 0.0000 90.54 588.35)" style="font-weight:bold;font-style:italic" font-size="67.44" fill="#222">(-)</text>
</g>
</g></svg></body></html>
